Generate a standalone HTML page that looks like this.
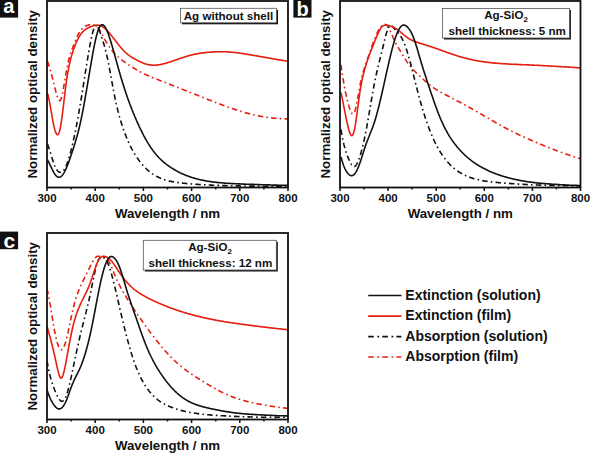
<!DOCTYPE html>
<html><head><meta charset="utf-8"><style>
html,body{margin:0;padding:0;background:#fff;width:591px;height:453px;overflow:hidden}
svg{display:block}
text{font-family:"Liberation Sans",sans-serif;font-weight:bold;fill:#111}
.tk{font-size:11.5px}
.ti{font-size:13.3px}
.lg{font-size:14px}
.bx{font-size:11.6px}
.pl{font-size:15px;fill:#fff}
</style></head><body>
<svg width="591" height="453" viewBox="0 0 591 453">
<clipPath id="clip471"><rect x="47" y="1" width="241" height="186.5"/></clipPath>
<g clip-path="url(#clip471)" fill="none" stroke-width="1.6" stroke-linejoin="round">
<path d="M47.5,61.4 48.0,62.8 48.5,64.3 49.0,65.9 49.5,67.5 50.0,69.2 50.5,70.9 51.0,72.7 51.5,74.5 52.0,76.3 52.5,78.2 53.0,80.2 53.5,82.2 54.0,84.1 54.5,86.2 55.0,88.2 55.5,90.2 56.0,92.2 56.5,94.1 57.0,95.8 57.5,97.3 58.0,98.6 58.5,99.6 59.0,100.3 59.5,100.7 60.0,100.6 60.5,100.1 61.0,99.0 61.5,97.6 62.0,95.7 62.5,93.4 63.0,90.9 63.5,88.1 64.0,85.2 64.5,82.2 65.0,79.1 65.5,76.1 66.0,73.1 66.5,70.2 67.0,67.6 67.5,65.1 68.0,62.9 68.5,60.8 69.0,58.8 69.5,57.0 70.0,55.3 70.5,53.7 71.0,52.3 71.5,50.8 72.0,49.4 72.5,48.1 73.0,46.8 73.5,45.5 74.0,44.2 74.5,42.9 75.0,41.7 75.5,40.5 76.0,39.3 76.5,38.1 77.0,37.0 77.5,36.0 78.0,34.9 78.5,34.0 79.0,33.1 79.5,32.2 80.0,31.4 80.5,30.6 81.0,29.9 81.5,29.3 82.0,28.8 82.5,28.2 83.0,27.8 83.5,27.4 84.0,27.0 84.5,26.7 85.0,26.4 85.5,26.1 86.0,25.9 86.5,25.7 87.0,25.5 87.5,25.3 88.0,25.2 88.5,25.0 89.0,24.9 89.5,24.8 90.0,24.7 90.5,24.6 91.0,24.6 91.5,24.6 92.0,24.6 92.5,24.6 93.0,24.7 93.5,24.9 94.0,25.0 94.5,25.2 95.0,25.5 95.5,25.8 96.0,26.1 96.5,26.5 97.0,27.0 97.5,27.5 98.0,28.0 98.5,28.6 99.0,29.3 99.5,30.0 100.0,30.7 100.5,31.5 101.0,32.3 101.5,33.2 102.0,34.1 102.5,35.0 103.0,36.0 103.5,36.9 104.0,37.9 104.5,38.8 105.0,39.8 105.5,40.7 106.0,41.6 106.5,42.4 107.0,43.3 107.5,44.1 108.0,44.9 108.5,45.7 109.0,46.4 109.5,47.1 110.0,47.8 110.5,48.5 111.0,49.2 111.5,49.8 112.0,50.5 112.5,51.1 113.0,51.7 113.5,52.2 114.0,52.8 114.5,53.4 115.0,53.9 115.5,54.4 116.0,54.9 116.5,55.4 117.0,55.9 117.5,56.3 118.0,56.8 118.5,57.2 119.0,57.6 119.5,58.1 120.0,58.5 120.5,58.9 121.0,59.3 121.5,59.7 122.0,60.1 122.5,60.4 123.0,60.8 123.5,61.2 124.0,61.5 124.5,61.9 125.0,62.2 125.5,62.6 126.0,62.9 126.5,63.3 127.0,63.6 127.5,64.0 128.0,64.3 128.5,64.7 129.0,65.0 129.5,65.3 130.0,65.7 130.5,66.0 131.0,66.3 131.5,66.7 132.0,67.0 132.5,67.3 133.0,67.6 133.5,67.9 134.0,68.2 134.5,68.5 135.0,68.8 135.5,69.1 136.0,69.4 136.5,69.7 137.0,70.0 137.5,70.3 138.0,70.6 138.5,70.9 139.0,71.2 139.5,71.4 140.0,71.7 140.5,72.0 141.0,72.2 141.5,72.5 142.0,72.8 142.5,73.0 143.0,73.3 143.5,73.5 144.0,73.7 144.5,74.0 145.0,74.2 145.5,74.5 146.0,74.7 146.5,74.9 147.0,75.2 147.5,75.4 148.0,75.6 148.5,75.8 149.0,76.0 149.5,76.3 150.0,76.5 150.5,76.7 151.0,76.9 151.5,77.1 152.0,77.3 152.5,77.5 153.0,77.7 153.5,77.9 154.0,78.1 154.5,78.3 155.0,78.5 155.5,78.7 156.0,78.9 156.5,79.1 157.0,79.3 157.5,79.5 158.0,79.7 158.5,79.9 159.0,80.1 159.5,80.3 160.0,80.5 160.5,80.7 161.0,80.9 161.5,81.1 162.0,81.3 162.5,81.5 163.0,81.7 163.5,81.9 164.0,82.0 164.5,82.2 165.0,82.4 165.5,82.6 166.0,82.8 166.5,83.0 167.0,83.2 167.5,83.4 168.0,83.6 168.5,83.8 169.0,84.0 169.5,84.2 170.0,84.4 170.5,84.6 171.0,84.8 171.5,85.0 172.0,85.2 172.5,85.4 173.0,85.6 173.5,85.8 174.0,86.0 174.5,86.2 175.0,86.4 175.5,86.6 176.0,86.8 176.5,87.0 177.0,87.2 177.5,87.4 178.0,87.6 178.5,87.8 179.0,88.0 179.5,88.2 180.0,88.4 180.5,88.6 181.0,88.8 181.5,89.0 182.0,89.2 182.5,89.4 183.0,89.6 183.5,89.8 184.0,90.0 184.5,90.2 185.0,90.4 185.5,90.6 186.0,90.8 186.5,91.0 187.0,91.2 187.5,91.4 188.0,91.6 188.5,91.8 189.0,92.0 189.5,92.2 190.0,92.4 190.5,92.6 191.0,92.8 191.5,93.0 192.0,93.2 192.5,93.3 193.0,93.5 193.5,93.7 194.0,93.9 194.5,94.1 195.0,94.3 195.5,94.5 196.0,94.7 196.5,94.9 197.0,95.1 197.5,95.3 198.0,95.5 198.5,95.7 199.0,95.9 199.5,96.1 200.0,96.3 200.5,96.5 201.0,96.7 201.5,96.9 202.0,97.1 202.5,97.3 203.0,97.5 203.5,97.7 204.0,97.9 204.5,98.1 205.0,98.3 205.5,98.5 206.0,98.7 206.5,98.9 207.0,99.1 207.5,99.3 208.0,99.5 208.5,99.7 209.0,99.9 209.5,100.1 210.0,100.3 210.5,100.5 211.0,100.6 211.5,100.8 212.0,101.0 212.5,101.2 213.0,101.4 213.5,101.6 214.0,101.8 214.5,102.0 215.0,102.2 215.5,102.4 216.0,102.6 216.5,102.8 217.0,103.0 217.5,103.1 218.0,103.3 218.5,103.5 219.0,103.7 219.5,103.9 220.0,104.1 220.5,104.3 221.0,104.5 221.5,104.7 222.0,104.8 222.5,105.0 223.0,105.2 223.5,105.4 224.0,105.6 224.5,105.8 225.0,105.9 225.5,106.1 226.0,106.3 226.5,106.5 227.0,106.7 227.5,106.9 228.0,107.0 228.5,107.2 229.0,107.4 229.5,107.6 230.0,107.7 230.5,107.9 231.0,108.1 231.5,108.3 232.0,108.4 232.5,108.6 233.0,108.8 233.5,109.0 234.0,109.1 234.5,109.3 235.0,109.5 235.5,109.6 236.0,109.8 236.5,110.0 237.0,110.1 237.5,110.3 238.0,110.4 238.5,110.6 239.0,110.8 239.5,110.9 240.0,111.1 240.5,111.2 241.0,111.4 241.5,111.5 242.0,111.7 242.5,111.8 243.0,112.0 243.5,112.1 244.0,112.3 244.5,112.4 245.0,112.6 245.5,112.7 246.0,112.9 246.5,113.0 247.0,113.1 247.5,113.3 248.0,113.4 248.5,113.5 249.0,113.7 249.5,113.8 250.0,113.9 250.5,114.1 251.0,114.2 251.5,114.3 252.0,114.4 252.5,114.6 253.0,114.7 253.5,114.8 254.0,114.9 254.5,115.0 255.0,115.1 255.5,115.3 256.0,115.4 256.5,115.5 257.0,115.6 257.5,115.7 258.0,115.8 258.5,115.9 259.0,116.0 259.5,116.1 260.0,116.2 260.5,116.3 261.0,116.4 261.5,116.5 262.0,116.6 262.5,116.6 263.0,116.7 263.5,116.8 264.0,116.9 264.5,117.0 265.0,117.1 265.5,117.1 266.0,117.2 266.5,117.3 267.0,117.4 267.5,117.4 268.0,117.5 268.5,117.6 269.0,117.6 269.5,117.7 270.0,117.7 270.5,117.8 271.0,117.9 271.5,117.9 272.0,118.0 272.5,118.0 273.0,118.1 273.5,118.1 274.0,118.1 274.5,118.2 275.0,118.2 275.5,118.3 276.0,118.3 276.5,118.3 277.0,118.4 277.5,118.4 278.0,118.4 278.5,118.5 279.0,118.5 279.5,118.5 280.0,118.6 280.5,118.6 281.0,118.6 281.5,118.7 282.0,118.7 282.5,118.7 283.0,118.8 283.5,118.8 284.0,118.8 284.5,118.8 285.0,118.9 285.5,118.9 286.0,118.9 286.5,119.0 287.0,119.0 287.5,119.1 288.0,119.1" stroke="#e61e10" stroke-dasharray="5.5 3.2 1.6 3.2"/>
<path d="M47.5,144.1 48.0,145.4 48.5,146.8 49.0,148.2 49.5,149.8 50.0,151.3 50.5,153.0 51.0,154.6 51.5,156.3 52.0,157.9 52.5,159.5 53.0,161.1 53.5,162.6 54.0,164.0 54.5,165.3 55.0,166.5 55.5,167.6 56.0,168.5 56.5,169.4 57.0,170.1 57.5,170.7 58.0,171.3 58.5,171.7 59.0,172.0 59.5,172.2 60.0,172.3 60.5,172.3 61.0,172.2 61.5,172.0 62.0,171.8 62.5,171.4 63.0,170.9 63.5,170.4 64.0,169.7 64.5,168.9 65.0,168.1 65.5,167.1 66.0,166.1 66.5,164.9 67.0,163.7 67.5,162.4 68.0,160.9 68.5,159.4 69.0,157.8 69.5,156.1 70.0,154.3 70.5,152.5 71.0,150.6 71.5,148.6 72.0,146.5 72.5,144.4 73.0,142.2 73.5,140.0 74.0,137.7 74.5,135.4 75.0,133.0 75.5,130.5 76.0,128.0 76.5,125.4 77.0,122.8 77.5,120.1 78.0,117.4 78.5,114.6 79.0,111.8 79.5,108.9 80.0,106.0 80.5,103.1 81.0,100.0 81.5,97.0 82.0,93.9 82.5,90.8 83.0,87.6 83.5,84.4 84.0,81.3 84.5,78.1 85.0,74.9 85.5,71.7 86.0,68.6 86.5,65.5 87.0,62.4 87.5,59.3 88.0,56.3 88.5,53.4 89.0,50.5 89.5,47.7 90.0,44.9 90.5,42.3 91.0,39.7 91.5,37.4 92.0,35.1 92.5,33.1 93.0,31.3 93.5,29.7 94.0,28.3 94.5,27.3 95.0,26.5 95.5,26.0 96.0,25.8 96.5,25.9 97.0,26.3 97.5,26.9 98.0,27.7 98.5,28.6 99.0,29.8 99.5,31.0 100.0,32.3 100.5,33.8 101.0,35.2 101.5,36.7 102.0,38.2 102.5,39.8 103.0,41.3 103.5,42.9 104.0,44.6 104.5,46.3 105.0,48.1 105.5,50.0 106.0,52.0 106.5,54.0 107.0,56.2 107.5,58.5 108.0,60.9 108.5,63.4 109.0,65.9 109.5,68.6 110.0,71.3 110.5,74.0 111.0,76.8 111.5,79.5 112.0,82.3 112.5,85.0 113.0,87.7 113.5,90.4 114.0,93.0 114.5,95.5 115.0,98.0 115.5,100.4 116.0,102.7 116.5,104.9 117.0,107.0 117.5,109.1 118.0,111.1 118.5,113.1 119.0,114.9 119.5,116.8 120.0,118.5 120.5,120.2 121.0,121.9 121.5,123.5 122.0,125.1 122.5,126.6 123.0,128.1 123.5,129.5 124.0,130.9 124.5,132.3 125.0,133.6 125.5,134.9 126.0,136.2 126.5,137.4 127.0,138.6 127.5,139.8 128.0,141.0 128.5,142.1 129.0,143.2 129.5,144.3 130.0,145.3 130.5,146.3 131.0,147.3 131.5,148.3 132.0,149.3 132.5,150.2 133.0,151.1 133.5,152.0 134.0,152.8 134.5,153.7 135.0,154.5 135.5,155.3 136.0,156.1 136.5,156.9 137.0,157.6 137.5,158.3 138.0,159.0 138.5,159.8 139.0,160.4 139.5,161.1 140.0,161.8 140.5,162.4 141.0,163.0 141.5,163.6 142.0,164.2 142.5,164.8 143.0,165.4 143.5,165.9 144.0,166.5 144.5,167.0 145.0,167.5 145.5,168.0 146.0,168.5 146.5,169.0 147.0,169.5 147.5,169.9 148.0,170.4 148.5,170.8 149.0,171.2 149.5,171.6 150.0,172.0 150.5,172.4 151.0,172.8 151.5,173.2 152.0,173.5 152.5,173.9 153.0,174.2 153.5,174.5 154.0,174.8 154.5,175.1 155.0,175.4 155.5,175.7 156.0,176.0 156.5,176.3 157.0,176.6 157.5,176.8 158.0,177.1 158.5,177.3 159.0,177.6 159.5,177.8 160.0,178.0 160.5,178.2 161.0,178.4 161.5,178.6 162.0,178.8 162.5,179.0 163.0,179.2 163.5,179.4 164.0,179.6 164.5,179.7 165.0,179.9 165.5,180.0 166.0,180.2 166.5,180.3 167.0,180.5 167.5,180.6 168.0,180.7 168.5,180.9 169.0,181.0 169.5,181.1 170.0,181.2 170.5,181.3 171.0,181.4 171.5,181.5 172.0,181.6 172.5,181.7 173.0,181.8 173.5,181.9 174.0,182.0 174.5,182.1 175.0,182.1 175.5,182.2 176.0,182.3 176.5,182.4 177.0,182.4 177.5,182.5 178.0,182.6 178.5,182.6 179.0,182.7 179.5,182.8 180.0,182.8 180.5,182.9 181.0,183.0 181.5,183.0 182.0,183.1 182.5,183.1 183.0,183.2 183.5,183.2 184.0,183.3 184.5,183.3 185.0,183.4 185.5,183.4 186.0,183.5 186.5,183.5 187.0,183.6 187.5,183.6 188.0,183.7 188.5,183.7 189.0,183.8 189.5,183.8 190.0,183.9 190.5,183.9 191.0,183.9 191.5,184.0 192.0,184.0 192.5,184.1 193.0,184.1 193.5,184.1 194.0,184.2 194.5,184.2 195.0,184.2 195.5,184.3 196.0,184.3 196.5,184.3 197.0,184.4 197.5,184.4 198.0,184.4 198.5,184.5 199.0,184.5 199.5,184.5 200.0,184.6 200.5,184.6 201.0,184.6 201.5,184.6 202.0,184.7 202.5,184.7 203.0,184.7 203.5,184.7 204.0,184.8 204.5,184.8 205.0,184.8 205.5,184.8 206.0,184.9 206.5,184.9 207.0,184.9 207.5,184.9 208.0,185.0 208.5,185.0 209.0,185.0 209.5,185.0 210.0,185.0 210.5,185.1 211.0,185.1 211.5,185.1 212.0,185.1 212.5,185.2 213.0,185.2 213.5,185.2 214.0,185.2 214.5,185.2 215.0,185.3 215.5,185.3 216.0,185.3 216.5,185.3 217.0,185.3 217.5,185.3 218.0,185.4 218.5,185.4 219.0,185.4 219.5,185.4 220.0,185.4 220.5,185.5 221.0,185.5 221.5,185.5 222.0,185.5 222.5,185.5 223.0,185.5 223.5,185.6 224.0,185.6 224.5,185.6 225.0,185.6 225.5,185.6 226.0,185.6 226.5,185.6 227.0,185.7 227.5,185.7 228.0,185.7 228.5,185.7 229.0,185.7 229.5,185.7 230.0,185.7 230.5,185.7 231.0,185.8 231.5,185.8 232.0,185.8 232.5,185.8 233.0,185.8 233.5,185.8 234.0,185.8 234.5,185.8 235.0,185.9 235.5,185.9 236.0,185.9 236.5,185.9 237.0,185.9 237.5,185.9 238.0,185.9 238.5,185.9 239.0,185.9 239.5,185.9 240.0,186.0 240.5,186.0 241.0,186.0 241.5,186.0 242.0,186.0 242.5,186.0 243.0,186.0 243.5,186.0 244.0,186.0 244.5,186.0 245.0,186.0 245.5,186.0 246.0,186.0 246.5,186.1 247.0,186.1 247.5,186.1 248.0,186.1 248.5,186.1 249.0,186.1 249.5,186.1 250.0,186.1 250.5,186.1 251.0,186.1 251.5,186.1 252.0,186.1 252.5,186.1 253.0,186.1 253.5,186.1 254.0,186.1 254.5,186.1 255.0,186.1 255.5,186.2 256.0,186.2 256.5,186.2 257.0,186.2 257.5,186.2 258.0,186.2 258.5,186.2 259.0,186.2 259.5,186.2 260.0,186.2 260.5,186.2 261.0,186.2 261.5,186.2 262.0,186.2 262.5,186.2 263.0,186.2 263.5,186.2 264.0,186.2 264.5,186.2 265.0,186.2 265.5,186.2 266.0,186.2 266.5,186.2 267.0,186.2 267.5,186.2 268.0,186.2 268.5,186.2 269.0,186.2 269.5,186.2 270.0,186.2 270.5,186.2 271.0,186.2 271.5,186.2 272.0,186.2 272.5,186.2 273.0,186.2 273.5,186.2 274.0,186.2 274.5,186.2 275.0,186.2 275.5,186.2 276.0,186.2 276.5,186.2 277.0,186.2 277.5,186.2 278.0,186.2 278.5,186.2 279.0,186.2 279.5,186.2 280.0,186.2 280.5,186.2 281.0,186.2 281.5,186.2 282.0,186.2 282.5,186.2 283.0,186.2 283.5,186.2 284.0,186.2 284.5,186.2 285.0,186.2 285.5,186.2 286.0,186.2 286.5,186.2 287.0,186.2 287.5,186.2 288.0,186.2" stroke="#111" stroke-dasharray="5.5 3.2 1.6 3.2"/>
<path d="M47.5,93.4 48.0,95.1 48.5,97.1 49.0,99.4 49.5,101.9 50.0,104.6 50.5,107.4 51.0,110.3 51.5,113.2 52.0,116.1 52.5,118.9 53.0,121.6 53.5,124.1 54.0,126.5 54.5,128.6 55.0,130.4 55.5,131.9 56.0,133.2 56.5,134.0 57.0,134.6 57.5,134.7 58.0,134.5 58.5,133.9 59.0,132.8 59.5,131.3 60.0,129.3 60.5,126.8 61.0,124.0 61.5,120.7 62.0,117.1 62.5,113.2 63.0,109.2 63.5,105.1 64.0,100.8 64.5,96.6 65.0,92.4 65.5,88.4 66.0,84.5 66.5,80.9 67.0,77.6 67.5,74.4 68.0,71.5 68.5,68.9 69.0,66.4 69.5,64.0 70.0,61.8 70.5,59.8 71.0,57.9 71.5,56.1 72.0,54.4 72.5,52.8 73.0,51.2 73.5,49.7 74.0,48.3 74.5,46.9 75.0,45.6 75.5,44.3 76.0,43.1 76.5,42.0 77.0,40.9 77.5,39.8 78.0,38.8 78.5,37.9 79.0,37.0 79.5,36.2 80.0,35.4 80.5,34.7 81.0,34.0 81.5,33.3 82.0,32.7 82.5,32.1 83.0,31.6 83.5,31.1 84.0,30.7 84.5,30.2 85.0,29.8 85.5,29.5 86.0,29.1 86.5,28.8 87.0,28.5 87.5,28.2 88.0,28.0 88.5,27.7 89.0,27.5 89.5,27.2 90.0,27.0 90.5,26.8 91.0,26.6 91.5,26.4 92.0,26.2 92.5,26.0 93.0,25.8 93.5,25.7 94.0,25.6 94.5,25.4 95.0,25.3 95.5,25.3 96.0,25.2 96.5,25.2 97.0,25.1 97.5,25.1 98.0,25.2 98.5,25.2 99.0,25.3 99.5,25.4 100.0,25.5 100.5,25.7 101.0,25.9 101.5,26.1 102.0,26.4 102.5,26.7 103.0,27.0 103.5,27.3 104.0,27.7 104.5,28.1 105.0,28.5 105.5,29.0 106.0,29.5 106.5,29.9 107.0,30.4 107.5,31.0 108.0,31.5 108.5,32.1 109.0,32.6 109.5,33.2 110.0,33.8 110.5,34.4 111.0,35.0 111.5,35.6 112.0,36.2 112.5,36.9 113.0,37.5 113.5,38.2 114.0,38.8 114.5,39.5 115.0,40.1 115.5,40.8 116.0,41.4 116.5,42.1 117.0,42.7 117.5,43.4 118.0,44.0 118.5,44.6 119.0,45.3 119.5,45.9 120.0,46.5 120.5,47.1 121.0,47.7 121.5,48.3 122.0,48.9 122.5,49.4 123.0,50.0 123.5,50.5 124.0,51.0 124.5,51.5 125.0,52.0 125.5,52.5 126.0,52.9 126.5,53.4 127.0,53.8 127.5,54.2 128.0,54.6 128.5,55.0 129.0,55.4 129.5,55.7 130.0,56.1 130.5,56.4 131.0,56.7 131.5,57.1 132.0,57.4 132.5,57.7 133.0,58.0 133.5,58.3 134.0,58.5 134.5,58.8 135.0,59.1 135.5,59.4 136.0,59.6 136.5,59.9 137.0,60.1 137.5,60.4 138.0,60.7 138.5,60.9 139.0,61.2 139.5,61.4 140.0,61.6 140.5,61.9 141.0,62.1 141.5,62.3 142.0,62.6 142.5,62.8 143.0,63.0 143.5,63.2 144.0,63.4 144.5,63.6 145.0,63.7 145.5,63.9 146.0,64.1 146.5,64.2 147.0,64.3 147.5,64.5 148.0,64.6 148.5,64.7 149.0,64.8 149.5,64.9 150.0,64.9 150.5,65.0 151.0,65.1 151.5,65.1 152.0,65.1 152.5,65.2 153.0,65.2 153.5,65.2 154.0,65.2 154.5,65.2 155.0,65.2 155.5,65.2 156.0,65.1 156.5,65.1 157.0,65.0 157.5,65.0 158.0,64.9 158.5,64.9 159.0,64.8 159.5,64.7 160.0,64.6 160.5,64.5 161.0,64.4 161.5,64.3 162.0,64.2 162.5,64.1 163.0,64.0 163.5,63.8 164.0,63.7 164.5,63.6 165.0,63.4 165.5,63.3 166.0,63.2 166.5,63.0 167.0,62.9 167.5,62.7 168.0,62.5 168.5,62.4 169.0,62.2 169.5,62.1 170.0,61.9 170.5,61.7 171.0,61.6 171.5,61.4 172.0,61.2 172.5,61.1 173.0,60.9 173.5,60.7 174.0,60.5 174.5,60.4 175.0,60.2 175.5,60.0 176.0,59.9 176.5,59.7 177.0,59.5 177.5,59.3 178.0,59.2 178.5,59.0 179.0,58.8 179.5,58.7 180.0,58.5 180.5,58.3 181.0,58.2 181.5,58.0 182.0,57.8 182.5,57.7 183.0,57.5 183.5,57.3 184.0,57.2 184.5,57.0 185.0,56.9 185.5,56.7 186.0,56.6 186.5,56.4 187.0,56.3 187.5,56.1 188.0,56.0 188.5,55.8 189.0,55.7 189.5,55.5 190.0,55.4 190.5,55.3 191.0,55.1 191.5,55.0 192.0,54.9 192.5,54.8 193.0,54.6 193.5,54.5 194.0,54.4 194.5,54.3 195.0,54.2 195.5,54.1 196.0,54.0 196.5,53.9 197.0,53.8 197.5,53.7 198.0,53.6 198.5,53.5 199.0,53.4 199.5,53.4 200.0,53.3 200.5,53.2 201.0,53.1 201.5,53.1 202.0,53.0 202.5,52.9 203.0,52.9 203.5,52.8 204.0,52.7 204.5,52.7 205.0,52.6 205.5,52.6 206.0,52.5 206.5,52.5 207.0,52.4 207.5,52.4 208.0,52.3 208.5,52.3 209.0,52.2 209.5,52.2 210.0,52.2 210.5,52.1 211.0,52.1 211.5,52.1 212.0,52.0 212.5,52.0 213.0,52.0 213.5,51.9 214.0,51.9 214.5,51.9 215.0,51.9 215.5,51.8 216.0,51.8 216.5,51.8 217.0,51.8 217.5,51.8 218.0,51.8 218.5,51.8 219.0,51.7 219.5,51.7 220.0,51.7 220.5,51.7 221.0,51.7 221.5,51.7 222.0,51.7 222.5,51.7 223.0,51.7 223.5,51.7 224.0,51.7 224.5,51.8 225.0,51.8 225.5,51.8 226.0,51.8 226.5,51.8 227.0,51.9 227.5,51.9 228.0,51.9 228.5,51.9 229.0,52.0 229.5,52.0 230.0,52.0 230.5,52.1 231.0,52.1 231.5,52.2 232.0,52.2 232.5,52.3 233.0,52.3 233.5,52.4 234.0,52.4 234.5,52.5 235.0,52.5 235.5,52.6 236.0,52.6 236.5,52.7 237.0,52.8 237.5,52.8 238.0,52.9 238.5,53.0 239.0,53.0 239.5,53.1 240.0,53.2 240.5,53.2 241.0,53.3 241.5,53.4 242.0,53.5 242.5,53.5 243.0,53.6 243.5,53.7 244.0,53.8 244.5,53.9 245.0,53.9 245.5,54.0 246.0,54.1 246.5,54.2 247.0,54.3 247.5,54.4 248.0,54.4 248.5,54.5 249.0,54.6 249.5,54.7 250.0,54.8 250.5,54.9 251.0,54.9 251.5,55.0 252.0,55.1 252.5,55.2 253.0,55.3 253.5,55.4 254.0,55.5 254.5,55.5 255.0,55.6 255.5,55.7 256.0,55.8 256.5,55.9 257.0,56.0 257.5,56.1 258.0,56.1 258.5,56.2 259.0,56.3 259.5,56.4 260.0,56.5 260.5,56.6 261.0,56.7 261.5,56.7 262.0,56.8 262.5,56.9 263.0,57.0 263.5,57.1 264.0,57.2 264.5,57.3 265.0,57.4 265.5,57.4 266.0,57.5 266.5,57.6 267.0,57.7 267.5,57.8 268.0,57.9 268.5,58.0 269.0,58.1 269.5,58.1 270.0,58.2 270.5,58.3 271.0,58.4 271.5,58.5 272.0,58.6 272.5,58.7 273.0,58.8 273.5,58.8 274.0,58.9 274.5,59.0 275.0,59.1 275.5,59.2 276.0,59.3 276.5,59.4 277.0,59.4 277.5,59.5 278.0,59.6 278.5,59.7 279.0,59.8 279.5,59.9 280.0,60.0 280.5,60.0 281.0,60.1 281.5,60.2 282.0,60.3 282.5,60.4 283.0,60.5 283.5,60.5 284.0,60.6 284.5,60.7 285.0,60.8 285.5,60.9 286.0,61.0 286.5,61.0 287.0,61.1 287.5,61.2 288.0,61.3" stroke="#e61e10"/>
<path d="M47.5,160.0 48.0,160.9 48.5,161.8 49.0,162.7 49.5,163.7 50.0,164.8 50.5,165.8 51.0,166.9 51.5,167.9 52.0,169.0 52.5,170.0 53.0,171.0 53.5,171.9 54.0,172.8 54.5,173.6 55.0,174.3 55.5,175.0 56.0,175.6 56.5,176.1 57.0,176.5 57.5,176.8 58.0,177.1 58.5,177.2 59.0,177.3 59.5,177.3 60.0,177.1 60.5,176.9 61.0,176.6 61.5,176.2 62.0,175.7 62.5,175.1 63.0,174.4 63.5,173.6 64.0,172.8 64.5,171.9 65.0,170.9 65.5,169.9 66.0,168.8 66.5,167.7 67.0,166.5 67.5,165.2 68.0,163.9 68.5,162.6 69.0,161.3 69.5,159.9 70.0,158.4 70.5,157.0 71.0,155.5 71.5,154.0 72.0,152.5 72.5,151.0 73.0,149.4 73.5,147.9 74.0,146.3 74.5,144.7 75.0,143.1 75.5,141.5 76.0,139.8 76.5,138.1 77.0,136.3 77.5,134.5 78.0,132.6 78.5,130.7 79.0,128.7 79.5,126.6 80.0,124.5 80.5,122.2 81.0,119.9 81.5,117.5 82.0,115.1 82.5,112.5 83.0,109.9 83.5,107.3 84.0,104.5 84.5,101.8 85.0,99.0 85.5,96.1 86.0,93.2 86.5,90.3 87.0,87.4 87.5,84.4 88.0,81.5 88.5,78.5 89.0,75.5 89.5,72.6 90.0,69.6 90.5,66.7 91.0,63.8 91.5,60.9 92.0,58.0 92.5,55.2 93.0,52.5 93.5,49.8 94.0,47.2 94.5,44.7 95.0,42.3 95.5,40.0 96.0,37.8 96.5,35.8 97.0,33.9 97.5,32.2 98.0,30.6 98.5,29.2 99.0,28.1 99.5,27.1 100.0,26.2 100.5,25.6 101.0,25.2 101.5,24.9 102.0,24.7 102.5,24.7 103.0,24.9 103.5,25.2 104.0,25.6 104.5,26.2 105.0,26.9 105.5,27.7 106.0,28.6 106.5,29.6 107.0,30.7 107.5,31.9 108.0,33.2 108.5,34.6 109.0,36.0 109.5,37.5 110.0,39.0 110.5,40.6 111.0,42.2 111.5,43.9 112.0,45.6 112.5,47.3 113.0,49.1 113.5,50.8 114.0,52.6 114.5,54.4 115.0,56.2 115.5,58.0 116.0,59.8 116.5,61.6 117.0,63.4 117.5,65.2 118.0,67.0 118.5,68.8 119.0,70.5 119.5,72.3 120.0,74.0 120.5,75.7 121.0,77.4 121.5,79.1 122.0,80.7 122.5,82.4 123.0,84.0 123.5,85.6 124.0,87.2 124.5,88.7 125.0,90.3 125.5,91.8 126.0,93.3 126.5,94.8 127.0,96.2 127.5,97.6 128.0,99.1 128.5,100.4 129.0,101.8 129.5,103.2 130.0,104.5 130.5,105.8 131.0,107.1 131.5,108.4 132.0,109.7 132.5,110.9 133.0,112.2 133.5,113.4 134.0,114.6 134.5,115.8 135.0,117.0 135.5,118.1 136.0,119.3 136.5,120.5 137.0,121.6 137.5,122.7 138.0,123.8 138.5,124.9 139.0,126.0 139.5,127.1 140.0,128.1 140.5,129.2 141.0,130.2 141.5,131.2 142.0,132.2 142.5,133.2 143.0,134.2 143.5,135.1 144.0,136.1 144.5,137.0 145.0,137.9 145.5,138.8 146.0,139.7 146.5,140.6 147.0,141.4 147.5,142.3 148.0,143.1 148.5,143.9 149.0,144.7 149.5,145.5 150.0,146.3 150.5,147.1 151.0,147.8 151.5,148.5 152.0,149.2 152.5,149.9 153.0,150.6 153.5,151.3 154.0,151.9 154.5,152.5 155.0,153.2 155.5,153.8 156.0,154.4 156.5,155.0 157.0,155.5 157.5,156.1 158.0,156.6 158.5,157.2 159.0,157.7 159.5,158.2 160.0,158.7 160.5,159.2 161.0,159.7 161.5,160.2 162.0,160.6 162.5,161.1 163.0,161.5 163.5,161.9 164.0,162.4 164.5,162.8 165.0,163.2 165.5,163.6 166.0,164.0 166.5,164.4 167.0,164.8 167.5,165.1 168.0,165.5 168.5,165.8 169.0,166.2 169.5,166.5 170.0,166.9 170.5,167.2 171.0,167.6 171.5,167.9 172.0,168.2 172.5,168.5 173.0,168.8 173.5,169.1 174.0,169.4 174.5,169.7 175.0,170.0 175.5,170.3 176.0,170.6 176.5,170.9 177.0,171.1 177.5,171.4 178.0,171.7 178.5,171.9 179.0,172.2 179.5,172.4 180.0,172.7 180.5,172.9 181.0,173.2 181.5,173.4 182.0,173.6 182.5,173.9 183.0,174.1 183.5,174.3 184.0,174.5 184.5,174.7 185.0,174.9 185.5,175.2 186.0,175.4 186.5,175.5 187.0,175.7 187.5,175.9 188.0,176.1 188.5,176.3 189.0,176.5 189.5,176.7 190.0,176.8 190.5,177.0 191.0,177.2 191.5,177.3 192.0,177.5 192.5,177.7 193.0,177.8 193.5,178.0 194.0,178.1 194.5,178.3 195.0,178.4 195.5,178.5 196.0,178.7 196.5,178.8 197.0,178.9 197.5,179.1 198.0,179.2 198.5,179.3 199.0,179.4 199.5,179.6 200.0,179.7 200.5,179.8 201.0,179.9 201.5,180.0 202.0,180.1 202.5,180.2 203.0,180.3 203.5,180.4 204.0,180.5 204.5,180.6 205.0,180.7 205.5,180.8 206.0,180.9 206.5,181.0 207.0,181.1 207.5,181.2 208.0,181.2 208.5,181.3 209.0,181.4 209.5,181.5 210.0,181.5 210.5,181.6 211.0,181.7 211.5,181.8 212.0,181.8 212.5,181.9 213.0,182.0 213.5,182.0 214.0,182.1 214.5,182.1 215.0,182.2 215.5,182.3 216.0,182.3 216.5,182.4 217.0,182.4 217.5,182.5 218.0,182.5 218.5,182.6 219.0,182.6 219.5,182.7 220.0,182.7 220.5,182.8 221.0,182.8 221.5,182.8 222.0,182.9 222.5,182.9 223.0,183.0 223.5,183.0 224.0,183.0 224.5,183.1 225.0,183.1 225.5,183.2 226.0,183.2 226.5,183.2 227.0,183.3 227.5,183.3 228.0,183.3 228.5,183.4 229.0,183.4 229.5,183.4 230.0,183.5 230.5,183.5 231.0,183.5 231.5,183.5 232.0,183.6 232.5,183.6 233.0,183.6 233.5,183.6 234.0,183.7 234.5,183.7 235.0,183.7 235.5,183.7 236.0,183.8 236.5,183.8 237.0,183.8 237.5,183.8 238.0,183.9 238.5,183.9 239.0,183.9 239.5,183.9 240.0,183.9 240.5,184.0 241.0,184.0 241.5,184.0 242.0,184.0 242.5,184.0 243.0,184.1 243.5,184.1 244.0,184.1 244.5,184.1 245.0,184.1 245.5,184.2 246.0,184.2 246.5,184.2 247.0,184.2 247.5,184.2 248.0,184.2 248.5,184.3 249.0,184.3 249.5,184.3 250.0,184.3 250.5,184.3 251.0,184.3 251.5,184.4 252.0,184.4 252.5,184.4 253.0,184.4 253.5,184.4 254.0,184.4 254.5,184.5 255.0,184.5 255.5,184.5 256.0,184.5 256.5,184.5 257.0,184.5 257.5,184.6 258.0,184.6 258.5,184.6 259.0,184.6 259.5,184.6 260.0,184.6 260.5,184.7 261.0,184.7 261.5,184.7 262.0,184.7 262.5,184.7 263.0,184.7 263.5,184.8 264.0,184.8 264.5,184.8 265.0,184.8 265.5,184.8 266.0,184.8 266.5,184.9 267.0,184.9 267.5,184.9 268.0,184.9 268.5,184.9 269.0,184.9 269.5,184.9 270.0,185.0 270.5,185.0 271.0,185.0 271.5,185.0 272.0,185.0 272.5,185.0 273.0,185.0 273.5,185.1 274.0,185.1 274.5,185.1 275.0,185.1 275.5,185.1 276.0,185.1 276.5,185.1 277.0,185.1 277.5,185.1 278.0,185.2 278.5,185.2 279.0,185.2 279.5,185.2 280.0,185.2 280.5,185.2 281.0,185.2 281.5,185.2 282.0,185.2 282.5,185.2 283.0,185.2 283.5,185.2 284.0,185.2 284.5,185.3 285.0,185.3 285.5,185.3 286.0,185.3 286.5,185.3 287.0,185.3 287.5,185.3 288.0,185.3" stroke="#111"/>
</g>
<rect x="47" y="1" width="241" height="186.5" fill="none" stroke="#111" stroke-width="1.8"/>
<path d="M47.00,187.5 v3.6 M71.10,187.5 v2.0 M95.20,187.5 v3.6 M119.30,187.5 v2.0 M143.40,187.5 v3.6 M167.50,187.5 v2.0 M191.60,187.5 v3.6 M215.70,187.5 v2.0 M239.80,187.5 v3.6 M263.90,187.5 v2.0 M288.00,187.5 v3.6 " stroke="#111" stroke-width="1.5"/>
<text x="47.00" y="202.1" text-anchor="middle" class="tk">300</text>
<text x="95.20" y="202.1" text-anchor="middle" class="tk">400</text>
<text x="143.40" y="202.1" text-anchor="middle" class="tk">500</text>
<text x="191.60" y="202.1" text-anchor="middle" class="tk">600</text>
<text x="239.80" y="202.1" text-anchor="middle" class="tk">700</text>
<text x="288.00" y="202.1" text-anchor="middle" class="tk">800</text>
<text x="167.50" y="218.1" text-anchor="middle" class="ti">Wavelength / nm</text>
<text transform="translate(36.8,94.25) rotate(-90)" text-anchor="middle" class="ti">Normalized optical density</text>
<rect x="0" y="0" width="18.1" height="17.6" fill="#111"/>
<text x="8.8" y="13.4" text-anchor="middle" class="pl" style="font-size:20px">a</text>
<rect x="182.0" y="9.8" width="96.0" height="14.5" fill="#111"/>
<rect x="180.5" y="8.3" width="96.0" height="14.5" fill="#fff" stroke="#555" stroke-width="0.8"/>
<text x="228.5" y="19.5" text-anchor="middle" class="bx">Ag without shell</text>
<clipPath id="clip3401"><rect x="340" y="1" width="240.5" height="186.5"/></clipPath>
<g clip-path="url(#clip3401)" fill="none" stroke-width="1.6" stroke-linejoin="round">
<path d="M341.0,64.8 341.5,68.5 342.0,71.9 342.5,75.3 343.0,78.4 343.5,81.4 344.0,84.3 344.5,87.0 345.0,89.6 345.5,92.1 346.0,94.4 346.5,96.7 347.0,98.8 347.5,100.8 348.0,102.8 348.5,104.6 349.0,106.4 349.5,108.1 350.0,109.6 350.5,110.9 351.0,112.0 351.5,113.0 352.0,113.6 352.5,114.0 353.0,114.1 353.5,113.8 354.0,113.2 354.5,112.1 355.0,110.7 355.5,108.9 356.0,106.9 356.5,104.6 357.0,102.0 357.5,99.4 358.0,96.6 358.5,93.8 359.0,91.0 359.5,88.2 360.0,85.5 360.5,82.9 361.0,80.6 361.5,78.4 362.0,76.3 362.5,74.4 363.0,72.6 363.5,70.9 364.0,69.2 364.5,67.7 365.0,66.2 365.5,64.7 366.0,63.2 366.5,61.8 367.0,60.4 367.5,58.9 368.0,57.5 368.5,56.0 369.0,54.6 369.5,53.1 370.0,51.7 370.5,50.3 371.0,48.9 371.5,47.5 372.0,46.1 372.5,44.7 373.0,43.4 373.5,42.0 374.0,40.7 374.5,39.4 375.0,38.2 375.5,37.0 376.0,35.8 376.5,34.6 377.0,33.5 377.5,32.4 378.0,31.4 378.5,30.4 379.0,29.5 379.5,28.7 380.0,27.9 380.5,27.2 381.0,26.5 381.5,26.0 382.0,25.5 382.5,25.1 383.0,24.7 383.5,24.5 384.0,24.4 384.5,24.3 385.0,24.3 385.5,24.5 386.0,24.7 386.5,25.1 387.0,25.5 387.5,26.1 388.0,26.7 388.5,27.5 389.0,28.4 389.5,29.3 390.0,30.4 390.5,31.5 391.0,32.6 391.5,33.8 392.0,34.9 392.5,36.1 393.0,37.3 393.5,38.4 394.0,39.5 394.5,40.6 395.0,41.6 395.5,42.6 396.0,43.6 396.5,44.5 397.0,45.4 397.5,46.2 398.0,47.1 398.5,47.9 399.0,48.8 399.5,49.6 400.0,50.4 400.5,51.3 401.0,52.1 401.5,53.0 402.0,53.8 402.5,54.7 403.0,55.5 403.5,56.3 404.0,57.2 404.5,58.0 405.0,58.8 405.5,59.6 406.0,60.4 406.5,61.1 407.0,61.9 407.5,62.6 408.0,63.3 408.5,64.0 409.0,64.7 409.5,65.3 410.0,65.9 410.5,66.6 411.0,67.2 411.5,67.7 412.0,68.3 412.5,68.9 413.0,69.4 413.5,69.9 414.0,70.5 414.5,71.0 415.0,71.5 415.5,72.0 416.0,72.5 416.5,73.0 417.0,73.4 417.5,73.9 418.0,74.4 418.5,74.9 419.0,75.3 419.5,75.8 420.0,76.3 420.5,76.8 421.0,77.2 421.5,77.7 422.0,78.2 422.5,78.6 423.0,79.1 423.5,79.5 424.0,80.0 424.5,80.4 425.0,80.9 425.5,81.3 426.0,81.7 426.5,82.2 427.0,82.6 427.5,83.0 428.0,83.4 428.5,83.9 429.0,84.3 429.5,84.7 430.0,85.1 430.5,85.5 431.0,85.8 431.5,86.2 432.0,86.6 432.5,87.0 433.0,87.3 433.5,87.7 434.0,88.0 434.5,88.4 435.0,88.7 435.5,89.0 436.0,89.4 436.5,89.7 437.0,90.0 437.5,90.3 438.0,90.6 438.5,90.9 439.0,91.2 439.5,91.5 440.0,91.8 440.5,92.1 441.0,92.4 441.5,92.6 442.0,92.9 442.5,93.2 443.0,93.5 443.5,93.7 444.0,94.0 444.5,94.3 445.0,94.5 445.5,94.8 446.0,95.1 446.5,95.3 447.0,95.6 447.5,95.8 448.0,96.1 448.5,96.3 449.0,96.6 449.5,96.8 450.0,97.1 450.5,97.4 451.0,97.6 451.5,97.9 452.0,98.1 452.5,98.4 453.0,98.6 453.5,98.9 454.0,99.2 454.5,99.4 455.0,99.7 455.5,99.9 456.0,100.2 456.5,100.5 457.0,100.7 457.5,101.0 458.0,101.2 458.5,101.5 459.0,101.8 459.5,102.0 460.0,102.3 460.5,102.6 461.0,102.8 461.5,103.1 462.0,103.4 462.5,103.7 463.0,103.9 463.5,104.2 464.0,104.5 464.5,104.7 465.0,105.0 465.5,105.3 466.0,105.6 466.5,105.8 467.0,106.1 467.5,106.4 468.0,106.7 468.5,106.9 469.0,107.2 469.5,107.5 470.0,107.8 470.5,108.1 471.0,108.3 471.5,108.6 472.0,108.9 472.5,109.2 473.0,109.5 473.5,109.7 474.0,110.0 474.5,110.3 475.0,110.6 475.5,110.9 476.0,111.2 476.5,111.5 477.0,111.7 477.5,112.0 478.0,112.3 478.5,112.6 479.0,112.9 479.5,113.2 480.0,113.5 480.5,113.8 481.0,114.1 481.5,114.4 482.0,114.6 482.5,114.9 483.0,115.2 483.5,115.5 484.0,115.8 484.5,116.1 485.0,116.4 485.5,116.7 486.0,117.0 486.5,117.3 487.0,117.6 487.5,117.9 488.0,118.1 488.5,118.4 489.0,118.7 489.5,119.0 490.0,119.3 490.5,119.6 491.0,119.9 491.5,120.2 492.0,120.5 492.5,120.8 493.0,121.0 493.5,121.3 494.0,121.6 494.5,121.9 495.0,122.2 495.5,122.5 496.0,122.8 496.5,123.1 497.0,123.3 497.5,123.6 498.0,123.9 498.5,124.2 499.0,124.5 499.5,124.7 500.0,125.0 500.5,125.3 501.0,125.6 501.5,125.9 502.0,126.1 502.5,126.4 503.0,126.7 503.5,126.9 504.0,127.2 504.5,127.5 505.0,127.7 505.5,128.0 506.0,128.3 506.5,128.5 507.0,128.8 507.5,129.1 508.0,129.3 508.5,129.6 509.0,129.8 509.5,130.1 510.0,130.4 510.5,130.6 511.0,130.9 511.5,131.1 512.0,131.4 512.5,131.6 513.0,131.9 513.5,132.1 514.0,132.3 514.5,132.6 515.0,132.8 515.5,133.1 516.0,133.3 516.5,133.6 517.0,133.8 517.5,134.0 518.0,134.3 518.5,134.5 519.0,134.8 519.5,135.0 520.0,135.2 520.5,135.5 521.0,135.7 521.5,135.9 522.0,136.2 522.5,136.4 523.0,136.6 523.5,136.8 524.0,137.1 524.5,137.3 525.0,137.5 525.5,137.7 526.0,138.0 526.5,138.2 527.0,138.4 527.5,138.6 528.0,138.9 528.5,139.1 529.0,139.3 529.5,139.5 530.0,139.7 530.5,140.0 531.0,140.2 531.5,140.4 532.0,140.6 532.5,140.8 533.0,141.1 533.5,141.3 534.0,141.5 534.5,141.7 535.0,141.9 535.5,142.1 536.0,142.3 536.5,142.5 537.0,142.8 537.5,143.0 538.0,143.2 538.5,143.4 539.0,143.6 539.5,143.8 540.0,144.0 540.5,144.2 541.0,144.4 541.5,144.6 542.0,144.8 542.5,145.1 543.0,145.3 543.5,145.5 544.0,145.7 544.5,145.9 545.0,146.1 545.5,146.3 546.0,146.5 546.5,146.7 547.0,146.9 547.5,147.1 548.0,147.3 548.5,147.5 549.0,147.7 549.5,147.9 550.0,148.1 550.5,148.3 551.0,148.5 551.5,148.7 552.0,148.8 552.5,149.0 553.0,149.2 553.5,149.4 554.0,149.6 554.5,149.8 555.0,150.0 555.5,150.2 556.0,150.4 556.5,150.6 557.0,150.8 557.5,151.0 558.0,151.1 558.5,151.3 559.0,151.5 559.5,151.7 560.0,151.9 560.5,152.1 561.0,152.3 561.5,152.4 562.0,152.6 562.5,152.8 563.0,153.0 563.5,153.2 564.0,153.3 564.5,153.5 565.0,153.7 565.5,153.9 566.0,154.1 566.5,154.2 567.0,154.4 567.5,154.6 568.0,154.8 568.5,154.9 569.0,155.1 569.5,155.3 570.0,155.4 570.5,155.6 571.0,155.8 571.5,155.9 572.0,156.1 572.5,156.3 573.0,156.4 573.5,156.6 574.0,156.8 574.5,156.9 575.0,157.1 575.5,157.3 576.0,157.4 576.5,157.6 577.0,157.7 577.5,157.9 578.0,158.0 578.5,158.2 579.0,158.3 579.5,158.5 580.0,158.6 580.5,158.8" stroke="#e61e10" stroke-dasharray="5.5 3.2 1.6 3.2"/>
<path d="M341.0,129.5 341.5,132.6 342.0,135.4 342.5,138.0 343.0,140.5 343.5,142.8 344.0,144.9 344.5,146.8 345.0,148.6 345.5,150.3 346.0,151.9 346.5,153.4 347.0,154.8 347.5,156.1 348.0,157.4 348.5,158.7 349.0,159.8 349.5,161.0 350.0,162.0 350.5,163.0 351.0,163.9 351.5,164.7 352.0,165.3 352.5,165.9 353.0,166.3 353.5,166.5 354.0,166.6 354.5,166.6 355.0,166.3 355.5,165.9 356.0,165.3 356.5,164.6 357.0,163.7 357.5,162.7 358.0,161.6 358.5,160.4 359.0,159.0 359.5,157.6 360.0,156.0 360.5,154.4 361.0,152.7 361.5,150.9 362.0,149.0 362.5,147.1 363.0,145.0 363.5,142.9 364.0,140.7 364.5,138.4 365.0,136.0 365.5,133.6 366.0,131.0 366.5,128.4 367.0,125.7 367.5,122.9 368.0,120.1 368.5,117.2 369.0,114.3 369.5,111.3 370.0,108.4 370.5,105.4 371.0,102.4 371.5,99.5 372.0,96.6 372.5,93.7 373.0,90.9 373.5,88.2 374.0,85.5 374.5,83.0 375.0,80.5 375.5,78.1 376.0,75.7 376.5,73.5 377.0,71.3 377.5,69.1 378.0,67.0 378.5,64.9 379.0,62.9 379.5,60.9 380.0,58.9 380.5,56.9 381.0,54.9 381.5,52.9 382.0,50.9 382.5,48.9 383.0,46.8 383.5,44.7 384.0,42.6 384.5,40.5 385.0,38.5 385.5,36.5 386.0,34.6 386.5,32.8 387.0,31.2 387.5,29.7 388.0,28.5 388.5,27.4 389.0,26.6 389.5,26.0 390.0,25.7 390.5,25.5 391.0,25.6 391.5,25.8 392.0,26.1 392.5,26.5 393.0,27.1 393.5,27.6 394.0,28.3 394.5,28.9 395.0,29.5 395.5,30.1 396.0,30.6 396.5,31.2 397.0,31.7 397.5,32.2 398.0,32.7 398.5,33.3 399.0,33.9 399.5,34.5 400.0,35.2 400.5,35.9 401.0,36.7 401.5,37.5 402.0,38.4 402.5,39.4 403.0,40.5 403.5,41.6 404.0,42.8 404.5,44.0 405.0,45.3 405.5,46.7 406.0,48.1 406.5,49.6 407.0,51.1 407.5,52.7 408.0,54.4 408.5,56.1 409.0,57.8 409.5,59.6 410.0,61.4 410.5,63.3 411.0,65.2 411.5,67.1 412.0,69.1 412.5,71.1 413.0,73.0 413.5,75.0 414.0,77.0 414.5,79.0 415.0,81.0 415.5,83.0 416.0,85.0 416.5,87.0 417.0,89.0 417.5,90.9 418.0,92.8 418.5,94.7 419.0,96.5 419.5,98.4 420.0,100.2 420.5,102.0 421.0,103.7 421.5,105.5 422.0,107.2 422.5,108.8 423.0,110.5 423.5,112.1 424.0,113.7 424.5,115.3 425.0,116.9 425.5,118.4 426.0,119.9 426.5,121.3 427.0,122.8 427.5,124.2 428.0,125.6 428.5,127.0 429.0,128.3 429.5,129.6 430.0,130.9 430.5,132.2 431.0,133.4 431.5,134.6 432.0,135.8 432.5,136.9 433.0,138.1 433.5,139.2 434.0,140.3 434.5,141.3 435.0,142.4 435.5,143.4 436.0,144.4 436.5,145.3 437.0,146.3 437.5,147.2 438.0,148.1 438.5,149.0 439.0,149.9 439.5,150.7 440.0,151.5 440.5,152.3 441.0,153.1 441.5,153.9 442.0,154.6 442.5,155.4 443.0,156.1 443.5,156.8 444.0,157.5 444.5,158.1 445.0,158.8 445.5,159.4 446.0,160.1 446.5,160.7 447.0,161.3 447.5,161.8 448.0,162.4 448.5,163.0 449.0,163.5 449.5,164.0 450.0,164.6 450.5,165.1 451.0,165.6 451.5,166.0 452.0,166.5 452.5,167.0 453.0,167.4 453.5,167.9 454.0,168.3 454.5,168.7 455.0,169.1 455.5,169.5 456.0,169.9 456.5,170.3 457.0,170.6 457.5,171.0 458.0,171.3 458.5,171.7 459.0,172.0 459.5,172.3 460.0,172.6 460.5,172.9 461.0,173.2 461.5,173.5 462.0,173.8 462.5,174.1 463.0,174.3 463.5,174.6 464.0,174.8 464.5,175.1 465.0,175.3 465.5,175.6 466.0,175.8 466.5,176.0 467.0,176.2 467.5,176.4 468.0,176.6 468.5,176.8 469.0,177.0 469.5,177.2 470.0,177.4 470.5,177.5 471.0,177.7 471.5,177.9 472.0,178.0 472.5,178.2 473.0,178.4 473.5,178.5 474.0,178.7 474.5,178.8 475.0,178.9 475.5,179.1 476.0,179.2 476.5,179.3 477.0,179.5 477.5,179.6 478.0,179.7 478.5,179.8 479.0,179.9 479.5,180.0 480.0,180.1 480.5,180.3 481.0,180.4 481.5,180.5 482.0,180.5 482.5,180.6 483.0,180.7 483.5,180.8 484.0,180.9 484.5,181.0 485.0,181.1 485.5,181.1 486.0,181.2 486.5,181.3 487.0,181.4 487.5,181.4 488.0,181.5 488.5,181.6 489.0,181.6 489.5,181.7 490.0,181.7 490.5,181.8 491.0,181.9 491.5,181.9 492.0,182.0 492.5,182.0 493.0,182.1 493.5,182.1 494.0,182.2 494.5,182.2 495.0,182.3 495.5,182.3 496.0,182.4 496.5,182.4 497.0,182.5 497.5,182.5 498.0,182.5 498.5,182.6 499.0,182.6 499.5,182.7 500.0,182.7 500.5,182.8 501.0,182.8 501.5,182.8 502.0,182.9 502.5,182.9 503.0,183.0 503.5,183.0 504.0,183.0 504.5,183.1 505.0,183.1 505.5,183.2 506.0,183.2 506.5,183.2 507.0,183.3 507.5,183.3 508.0,183.4 508.5,183.4 509.0,183.4 509.5,183.5 510.0,183.5 510.5,183.5 511.0,183.6 511.5,183.6 512.0,183.6 512.5,183.7 513.0,183.7 513.5,183.8 514.0,183.8 514.5,183.8 515.0,183.9 515.5,183.9 516.0,183.9 516.5,184.0 517.0,184.0 517.5,184.0 518.0,184.0 518.5,184.1 519.0,184.1 519.5,184.1 520.0,184.2 520.5,184.2 521.0,184.2 521.5,184.3 522.0,184.3 522.5,184.3 523.0,184.3 523.5,184.4 524.0,184.4 524.5,184.4 525.0,184.5 525.5,184.5 526.0,184.5 526.5,184.5 527.0,184.6 527.5,184.6 528.0,184.6 528.5,184.6 529.0,184.6 529.5,184.7 530.0,184.7 530.5,184.7 531.0,184.7 531.5,184.8 532.0,184.8 532.5,184.8 533.0,184.8 533.5,184.8 534.0,184.9 534.5,184.9 535.0,184.9 535.5,184.9 536.0,184.9 536.5,185.0 537.0,185.0 537.5,185.0 538.0,185.0 538.5,185.0 539.0,185.0 539.5,185.1 540.0,185.1 540.5,185.1 541.0,185.1 541.5,185.1 542.0,185.1 542.5,185.2 543.0,185.2 543.5,185.2 544.0,185.2 544.5,185.2 545.0,185.2 545.5,185.2 546.0,185.3 546.5,185.3 547.0,185.3 547.5,185.3 548.0,185.3 548.5,185.3 549.0,185.3 549.5,185.4 550.0,185.4 550.5,185.4 551.0,185.4 551.5,185.4 552.0,185.4 552.5,185.4 553.0,185.4 553.5,185.5 554.0,185.5 554.5,185.5 555.0,185.5 555.5,185.5 556.0,185.5 556.5,185.5 557.0,185.5 557.5,185.5 558.0,185.6 558.5,185.6 559.0,185.6 559.5,185.6 560.0,185.6 560.5,185.6 561.0,185.6 561.5,185.6 562.0,185.6 562.5,185.7 563.0,185.7 563.5,185.7 564.0,185.7 564.5,185.7 565.0,185.7 565.5,185.7 566.0,185.7 566.5,185.7 567.0,185.8 567.5,185.8 568.0,185.8 568.5,185.8 569.0,185.8 569.5,185.8 570.0,185.8 570.5,185.8 571.0,185.8 571.5,185.9 572.0,185.9 572.5,185.9 573.0,185.9 573.5,185.9 574.0,185.9 574.5,185.9 575.0,185.9 575.5,186.0 576.0,186.0 576.5,186.0 577.0,186.0 577.5,186.0 578.0,186.0 578.5,186.0 579.0,186.1 579.5,186.1 580.0,186.1 580.5,186.1" stroke="#111" stroke-dasharray="5.5 3.2 1.6 3.2"/>
<path d="M341.0,92.5 341.5,94.8 342.0,97.2 342.5,99.6 343.0,102.1 343.5,104.7 344.0,107.3 344.5,109.8 345.0,112.4 345.5,115.0 346.0,117.4 346.5,119.9 347.0,122.2 347.5,124.4 348.0,126.5 348.5,128.5 349.0,130.3 349.5,131.9 350.0,133.2 350.5,134.3 351.0,135.1 351.5,135.5 352.0,135.6 352.5,135.2 353.0,134.5 353.5,133.3 354.0,131.5 354.5,129.4 355.0,126.8 355.5,123.8 356.0,120.5 356.5,117.1 357.0,113.4 357.5,109.7 358.0,105.9 358.5,102.1 359.0,98.4 359.5,94.8 360.0,91.5 360.5,88.4 361.0,85.5 361.5,82.8 362.0,80.2 362.5,77.9 363.0,75.7 363.5,73.7 364.0,71.7 364.5,69.9 365.0,68.1 365.5,66.5 366.0,64.9 366.5,63.3 367.0,61.8 367.5,60.3 368.0,58.8 368.5,57.4 369.0,56.0 369.5,54.6 370.0,53.3 370.5,52.0 371.0,50.7 371.5,49.4 372.0,48.1 372.5,46.8 373.0,45.6 373.5,44.3 374.0,43.1 374.5,41.8 375.0,40.6 375.5,39.3 376.0,38.1 376.5,36.9 377.0,35.7 377.5,34.5 378.0,33.4 378.5,32.4 379.0,31.3 379.5,30.4 380.0,29.5 380.5,28.7 381.0,27.9 381.5,27.3 382.0,26.7 382.5,26.3 383.0,25.9 383.5,25.6 384.0,25.4 384.5,25.3 385.0,25.2 385.5,25.2 386.0,25.2 386.5,25.2 387.0,25.3 387.5,25.4 388.0,25.5 388.5,25.6 389.0,25.7 389.5,25.9 390.0,26.0 390.5,26.1 391.0,26.3 391.5,26.4 392.0,26.6 392.5,26.8 393.0,27.0 393.5,27.2 394.0,27.4 394.5,27.7 395.0,28.0 395.5,28.3 396.0,28.6 396.5,28.9 397.0,29.3 397.5,29.6 398.0,30.0 398.5,30.4 399.0,30.8 399.5,31.2 400.0,31.6 400.5,32.0 401.0,32.4 401.5,32.9 402.0,33.3 402.5,33.7 403.0,34.1 403.5,34.6 404.0,35.0 404.5,35.4 405.0,35.8 405.5,36.2 406.0,36.6 406.5,37.0 407.0,37.3 407.5,37.7 408.0,38.0 408.5,38.4 409.0,38.7 409.5,39.0 410.0,39.3 410.5,39.5 411.0,39.8 411.5,40.0 412.0,40.3 412.5,40.5 413.0,40.8 413.5,41.0 414.0,41.2 414.5,41.4 415.0,41.6 415.5,41.8 416.0,41.9 416.5,42.1 417.0,42.3 417.5,42.5 418.0,42.6 418.5,42.8 419.0,43.0 419.5,43.1 420.0,43.3 420.5,43.5 421.0,43.6 421.5,43.8 422.0,43.9 422.5,44.1 423.0,44.2 423.5,44.4 424.0,44.5 424.5,44.7 425.0,44.8 425.5,45.0 426.0,45.2 426.5,45.3 427.0,45.5 427.5,45.6 428.0,45.8 428.5,45.9 429.0,46.1 429.5,46.2 430.0,46.4 430.5,46.5 431.0,46.7 431.5,46.9 432.0,47.0 432.5,47.2 433.0,47.4 433.5,47.5 434.0,47.7 434.5,47.9 435.0,48.0 435.5,48.2 436.0,48.4 436.5,48.6 437.0,48.7 437.5,48.9 438.0,49.1 438.5,49.3 439.0,49.5 439.5,49.6 440.0,49.8 440.5,50.0 441.0,50.2 441.5,50.4 442.0,50.5 442.5,50.7 443.0,50.9 443.5,51.1 444.0,51.3 444.5,51.5 445.0,51.6 445.5,51.8 446.0,52.0 446.5,52.2 447.0,52.4 447.5,52.6 448.0,52.7 448.5,52.9 449.0,53.1 449.5,53.3 450.0,53.4 450.5,53.6 451.0,53.8 451.5,54.0 452.0,54.1 452.5,54.3 453.0,54.5 453.5,54.6 454.0,54.8 454.5,55.0 455.0,55.1 455.5,55.3 456.0,55.4 456.5,55.6 457.0,55.8 457.5,55.9 458.0,56.1 458.5,56.2 459.0,56.4 459.5,56.5 460.0,56.7 460.5,56.8 461.0,57.0 461.5,57.1 462.0,57.2 462.5,57.4 463.0,57.5 463.5,57.7 464.0,57.8 464.5,57.9 465.0,58.1 465.5,58.2 466.0,58.3 466.5,58.4 467.0,58.6 467.5,58.7 468.0,58.8 468.5,58.9 469.0,59.1 469.5,59.2 470.0,59.3 470.5,59.4 471.0,59.5 471.5,59.6 472.0,59.7 472.5,59.8 473.0,59.9 473.5,60.1 474.0,60.2 474.5,60.3 475.0,60.4 475.5,60.5 476.0,60.5 476.5,60.6 477.0,60.7 477.5,60.8 478.0,60.9 478.5,61.0 479.0,61.1 479.5,61.2 480.0,61.3 480.5,61.3 481.0,61.4 481.5,61.5 482.0,61.6 482.5,61.6 483.0,61.7 483.5,61.8 484.0,61.9 484.5,61.9 485.0,62.0 485.5,62.1 486.0,62.1 486.5,62.2 487.0,62.3 487.5,62.3 488.0,62.4 488.5,62.4 489.0,62.5 489.5,62.5 490.0,62.6 490.5,62.7 491.0,62.7 491.5,62.8 492.0,62.8 492.5,62.9 493.0,62.9 493.5,63.0 494.0,63.0 494.5,63.1 495.0,63.1 495.5,63.1 496.0,63.2 496.5,63.2 497.0,63.3 497.5,63.3 498.0,63.3 498.5,63.4 499.0,63.4 499.5,63.5 500.0,63.5 500.5,63.5 501.0,63.6 501.5,63.6 502.0,63.6 502.5,63.7 503.0,63.7 503.5,63.7 504.0,63.8 504.5,63.8 505.0,63.8 505.5,63.9 506.0,63.9 506.5,63.9 507.0,63.9 507.5,64.0 508.0,64.0 508.5,64.0 509.0,64.1 509.5,64.1 510.0,64.1 510.5,64.1 511.0,64.2 511.5,64.2 512.0,64.2 512.5,64.2 513.0,64.3 513.5,64.3 514.0,64.3 514.5,64.3 515.0,64.4 515.5,64.4 516.0,64.4 516.5,64.4 517.0,64.4 517.5,64.5 518.0,64.5 518.5,64.5 519.0,64.5 519.5,64.5 520.0,64.6 520.5,64.6 521.0,64.6 521.5,64.6 522.0,64.7 522.5,64.7 523.0,64.7 523.5,64.7 524.0,64.7 524.5,64.8 525.0,64.8 525.5,64.8 526.0,64.8 526.5,64.8 527.0,64.9 527.5,64.9 528.0,64.9 528.5,64.9 529.0,64.9 529.5,65.0 530.0,65.0 530.5,65.0 531.0,65.0 531.5,65.1 532.0,65.1 532.5,65.1 533.0,65.1 533.5,65.1 534.0,65.2 534.5,65.2 535.0,65.2 535.5,65.2 536.0,65.3 536.5,65.3 537.0,65.3 537.5,65.3 538.0,65.4 538.5,65.4 539.0,65.4 539.5,65.4 540.0,65.5 540.5,65.5 541.0,65.5 541.5,65.5 542.0,65.6 542.5,65.6 543.0,65.6 543.5,65.7 544.0,65.7 544.5,65.7 545.0,65.7 545.5,65.8 546.0,65.8 546.5,65.8 547.0,65.8 547.5,65.9 548.0,65.9 548.5,65.9 549.0,66.0 549.5,66.0 550.0,66.0 550.5,66.0 551.0,66.1 551.5,66.1 552.0,66.1 552.5,66.2 553.0,66.2 553.5,66.2 554.0,66.2 554.5,66.3 555.0,66.3 555.5,66.3 556.0,66.4 556.5,66.4 557.0,66.4 557.5,66.5 558.0,66.5 558.5,66.5 559.0,66.5 559.5,66.6 560.0,66.6 560.5,66.6 561.0,66.7 561.5,66.7 562.0,66.7 562.5,66.7 563.0,66.8 563.5,66.8 564.0,66.8 564.5,66.9 565.0,66.9 565.5,66.9 566.0,66.9 566.5,67.0 567.0,67.0 567.5,67.0 568.0,67.1 568.5,67.1 569.0,67.1 569.5,67.2 570.0,67.2 570.5,67.2 571.0,67.3 571.5,67.3 572.0,67.3 572.5,67.3 573.0,67.4 573.5,67.4 574.0,67.4 574.5,67.5 575.0,67.5 575.5,67.5 576.0,67.6 576.5,67.6 577.0,67.7 577.5,67.7 578.0,67.7 578.5,67.8 579.0,67.8 579.5,67.8 580.0,67.9 580.5,67.9" stroke="#e61e10"/>
<path d="M341.0,156.9 341.5,158.8 342.0,160.6 342.5,162.3 343.0,163.8 343.5,165.2 344.0,166.5 344.5,167.7 345.0,168.8 345.5,169.8 346.0,170.7 346.5,171.5 347.0,172.3 347.5,172.9 348.0,173.5 348.5,174.0 349.0,174.5 349.5,174.9 350.0,175.2 350.5,175.4 351.0,175.6 351.5,175.7 352.0,175.6 352.5,175.5 353.0,175.3 353.5,175.0 354.0,174.6 354.5,174.1 355.0,173.4 355.5,172.7 356.0,171.9 356.5,171.0 357.0,170.1 357.5,169.0 358.0,167.9 358.5,166.7 359.0,165.4 359.5,164.1 360.0,162.7 360.5,161.2 361.0,159.7 361.5,158.2 362.0,156.6 362.5,155.1 363.0,153.5 363.5,151.9 364.0,150.3 364.5,148.8 365.0,147.2 365.5,145.8 366.0,144.3 366.5,142.9 367.0,141.6 367.5,140.2 368.0,139.0 368.5,137.7 369.0,136.5 369.5,135.2 370.0,134.0 370.5,132.8 371.0,131.5 371.5,130.3 372.0,129.0 372.5,127.7 373.0,126.3 373.5,124.9 374.0,123.4 374.5,121.9 375.0,120.3 375.5,118.7 376.0,117.0 376.5,115.2 377.0,113.4 377.5,111.5 378.0,109.6 378.5,107.7 379.0,105.7 379.5,103.6 380.0,101.6 380.5,99.5 381.0,97.3 381.5,95.2 382.0,93.0 382.5,90.8 383.0,88.6 383.5,86.4 384.0,84.1 384.5,81.9 385.0,79.6 385.5,77.4 386.0,75.1 386.5,72.9 387.0,70.6 387.5,68.4 388.0,66.2 388.5,64.0 389.0,61.8 389.5,59.7 390.0,57.6 390.5,55.5 391.0,53.5 391.5,51.5 392.0,49.5 392.5,47.6 393.0,45.8 393.5,44.0 394.0,42.3 394.5,40.6 395.0,39.0 395.5,37.5 396.0,36.1 396.5,34.8 397.0,33.5 397.5,32.3 398.0,31.2 398.5,30.2 399.0,29.2 399.5,28.4 400.0,27.7 400.5,27.0 401.0,26.4 401.5,26.0 402.0,25.6 402.5,25.3 403.0,25.2 403.5,25.1 404.0,25.1 404.5,25.2 405.0,25.3 405.5,25.6 406.0,25.9 406.5,26.2 407.0,26.6 407.5,27.1 408.0,27.7 408.5,28.2 409.0,28.9 409.5,29.6 410.0,30.3 410.5,31.2 411.0,32.1 411.5,33.0 412.0,34.0 412.5,35.1 413.0,36.3 413.5,37.6 414.0,38.9 414.5,40.3 415.0,41.8 415.5,43.3 416.0,44.9 416.5,46.5 417.0,48.1 417.5,49.8 418.0,51.5 418.5,53.2 419.0,55.0 419.5,56.7 420.0,58.4 420.5,60.1 421.0,61.8 421.5,63.4 422.0,65.1 422.5,66.7 423.0,68.3 423.5,69.9 424.0,71.4 424.5,73.0 425.0,74.6 425.5,76.1 426.0,77.6 426.5,79.2 427.0,80.7 427.5,82.2 428.0,83.7 428.5,85.2 429.0,86.7 429.5,88.2 430.0,89.7 430.5,91.2 431.0,92.7 431.5,94.2 432.0,95.6 432.5,97.1 433.0,98.6 433.5,100.0 434.0,101.4 434.5,102.9 435.0,104.3 435.5,105.7 436.0,107.0 436.5,108.4 437.0,109.7 437.5,111.1 438.0,112.4 438.5,113.7 439.0,114.9 439.5,116.2 440.0,117.4 440.5,118.6 441.0,119.8 441.5,120.9 442.0,122.0 442.5,123.1 443.0,124.2 443.5,125.3 444.0,126.3 444.5,127.3 445.0,128.3 445.5,129.3 446.0,130.2 446.5,131.1 447.0,132.0 447.5,132.9 448.0,133.8 448.5,134.6 449.0,135.5 449.5,136.3 450.0,137.1 450.5,137.8 451.0,138.6 451.5,139.4 452.0,140.1 452.5,140.8 453.0,141.5 453.5,142.2 454.0,142.9 454.5,143.5 455.0,144.2 455.5,144.8 456.0,145.5 456.5,146.1 457.0,146.7 457.5,147.3 458.0,147.9 458.5,148.5 459.0,149.0 459.5,149.6 460.0,150.2 460.5,150.7 461.0,151.2 461.5,151.8 462.0,152.3 462.5,152.8 463.0,153.3 463.5,153.8 464.0,154.3 464.5,154.8 465.0,155.2 465.5,155.7 466.0,156.1 466.5,156.6 467.0,157.0 467.5,157.5 468.0,157.9 468.5,158.3 469.0,158.7 469.5,159.1 470.0,159.5 470.5,159.9 471.0,160.3 471.5,160.7 472.0,161.1 472.5,161.4 473.0,161.8 473.5,162.2 474.0,162.5 474.5,162.9 475.0,163.2 475.5,163.5 476.0,163.9 476.5,164.2 477.0,164.5 477.5,164.8 478.0,165.1 478.5,165.5 479.0,165.8 479.5,166.1 480.0,166.4 480.5,166.6 481.0,166.9 481.5,167.2 482.0,167.5 482.5,167.8 483.0,168.0 483.5,168.3 484.0,168.6 484.5,168.8 485.0,169.1 485.5,169.3 486.0,169.6 486.5,169.8 487.0,170.1 487.5,170.3 488.0,170.6 488.5,170.8 489.0,171.0 489.5,171.2 490.0,171.5 490.5,171.7 491.0,171.9 491.5,172.1 492.0,172.3 492.5,172.5 493.0,172.7 493.5,172.9 494.0,173.1 494.5,173.3 495.0,173.5 495.5,173.7 496.0,173.9 496.5,174.1 497.0,174.3 497.5,174.4 498.0,174.6 498.5,174.8 499.0,175.0 499.5,175.1 500.0,175.3 500.5,175.5 501.0,175.6 501.5,175.8 502.0,175.9 502.5,176.1 503.0,176.2 503.5,176.4 504.0,176.5 504.5,176.7 505.0,176.8 505.5,177.0 506.0,177.1 506.5,177.3 507.0,177.4 507.5,177.5 508.0,177.7 508.5,177.8 509.0,177.9 509.5,178.1 510.0,178.2 510.5,178.3 511.0,178.4 511.5,178.6 512.0,178.7 512.5,178.8 513.0,178.9 513.5,179.0 514.0,179.2 514.5,179.3 515.0,179.4 515.5,179.5 516.0,179.6 516.5,179.7 517.0,179.8 517.5,179.9 518.0,180.0 518.5,180.1 519.0,180.2 519.5,180.3 520.0,180.4 520.5,180.5 521.0,180.6 521.5,180.7 522.0,180.8 522.5,180.9 523.0,181.0 523.5,181.0 524.0,181.1 524.5,181.2 525.0,181.3 525.5,181.4 526.0,181.5 526.5,181.5 527.0,181.6 527.5,181.7 528.0,181.8 528.5,181.8 529.0,181.9 529.5,182.0 530.0,182.1 530.5,182.1 531.0,182.2 531.5,182.3 532.0,182.3 532.5,182.4 533.0,182.4 533.5,182.5 534.0,182.6 534.5,182.6 535.0,182.7 535.5,182.7 536.0,182.8 536.5,182.9 537.0,182.9 537.5,183.0 538.0,183.0 538.5,183.1 539.0,183.1 539.5,183.2 540.0,183.2 540.5,183.3 541.0,183.3 541.5,183.3 542.0,183.4 542.5,183.4 543.0,183.5 543.5,183.5 544.0,183.6 544.5,183.6 545.0,183.6 545.5,183.7 546.0,183.7 546.5,183.8 547.0,183.8 547.5,183.8 548.0,183.9 548.5,183.9 549.0,183.9 549.5,184.0 550.0,184.0 550.5,184.1 551.0,184.1 551.5,184.1 552.0,184.2 552.5,184.2 553.0,184.2 553.5,184.2 554.0,184.3 554.5,184.3 555.0,184.3 555.5,184.4 556.0,184.4 556.5,184.4 557.0,184.5 557.5,184.5 558.0,184.5 558.5,184.6 559.0,184.6 559.5,184.6 560.0,184.6 560.5,184.7 561.0,184.7 561.5,184.7 562.0,184.8 562.5,184.8 563.0,184.8 563.5,184.8 564.0,184.9 564.5,184.9 565.0,184.9 565.5,185.0 566.0,185.0 566.5,185.0 567.0,185.0 567.5,185.1 568.0,185.1 568.5,185.1 569.0,185.2 569.5,185.2 570.0,185.2 570.5,185.2 571.0,185.2 571.5,185.3 572.0,185.3 572.5,185.3 573.0,185.3 573.5,185.4 574.0,185.4 574.5,185.4 575.0,185.4 575.5,185.4 576.0,185.4 576.5,185.4 577.0,185.4 577.5,185.5 578.0,185.5 578.5,185.5 579.0,185.5 579.5,185.5 580.0,185.5 580.5,185.5" stroke="#111"/>
</g>
<rect x="340" y="1" width="240.5" height="186.5" fill="none" stroke="#111" stroke-width="1.8"/>
<path d="M340.00,187.5 v3.6 M364.05,187.5 v2.0 M388.10,187.5 v3.6 M412.15,187.5 v2.0 M436.20,187.5 v3.6 M460.25,187.5 v2.0 M484.30,187.5 v3.6 M508.35,187.5 v2.0 M532.40,187.5 v3.6 M556.45,187.5 v2.0 M580.50,187.5 v3.6 " stroke="#111" stroke-width="1.5"/>
<text x="340.00" y="202.1" text-anchor="middle" class="tk">300</text>
<text x="388.10" y="202.1" text-anchor="middle" class="tk">400</text>
<text x="436.20" y="202.1" text-anchor="middle" class="tk">500</text>
<text x="484.30" y="202.1" text-anchor="middle" class="tk">600</text>
<text x="532.40" y="202.1" text-anchor="middle" class="tk">700</text>
<text x="580.50" y="202.1" text-anchor="middle" class="tk">800</text>
<text x="460.25" y="218.1" text-anchor="middle" class="ti">Wavelength / nm</text>
<text transform="translate(329.8,94.25) rotate(-90)" text-anchor="middle" class="ti">Normalized optical density</text>
<rect x="293.4" y="0" width="18.1" height="17.6" fill="#111"/>
<text x="302.7" y="15.5" text-anchor="middle" class="pl" style="font-size:20px">b</text>
<rect x="443.9" y="10.0" width="127.0" height="29.5" fill="#111"/>
<rect x="442.4" y="8.5" width="127.0" height="29.5" fill="#fff" stroke="#555" stroke-width="0.8"/>
<text x="506" y="19.2" text-anchor="middle" class="bx">Ag-SiO<tspan dy="3" font-size="8">2</tspan></text>
<text x="507.2" y="34.6" text-anchor="middle" class="bx">shell thickness: 5 nm</text>
<clipPath id="clip47233"><rect x="47" y="233" width="241" height="186.5"/></clipPath>
<g clip-path="url(#clip47233)" fill="none" stroke-width="1.6" stroke-linejoin="round">
<path d="M47.0,288.9 47.5,290.9 48.0,293.2 48.5,295.6 49.0,298.2 49.5,300.9 50.0,303.8 50.5,306.7 51.0,309.7 51.5,312.8 52.0,315.9 52.5,318.9 53.0,321.9 53.5,324.9 54.0,327.7 54.5,330.5 55.0,333.1 55.5,335.5 56.0,337.7 56.5,339.8 57.0,341.7 57.5,343.4 58.0,344.9 58.5,346.2 59.0,347.4 59.5,348.3 60.0,348.9 60.5,349.4 61.0,349.7 61.5,349.7 62.0,349.5 62.5,349.0 63.0,348.4 63.5,347.6 64.0,346.6 64.5,345.4 65.0,344.0 65.5,342.5 66.0,340.8 66.5,339.0 67.0,337.0 67.5,334.9 68.0,332.7 68.5,330.4 69.0,328.1 69.5,325.7 70.0,323.2 70.5,320.8 71.0,318.3 71.5,315.9 72.0,313.6 72.5,311.3 73.0,309.1 73.5,307.0 74.0,305.1 74.5,303.2 75.0,301.4 75.5,299.7 76.0,298.1 76.5,296.6 77.0,295.1 77.5,293.7 78.0,292.4 78.5,291.1 79.0,289.8 79.5,288.6 80.0,287.4 80.5,286.3 81.0,285.1 81.5,284.0 82.0,283.0 82.5,281.9 83.0,280.8 83.5,279.8 84.0,278.8 84.5,277.8 85.0,276.8 85.5,275.8 86.0,274.8 86.5,273.8 87.0,272.8 87.5,271.8 88.0,270.9 88.5,269.9 89.0,268.9 89.5,267.9 90.0,266.9 90.5,265.9 91.0,264.9 91.5,263.9 92.0,262.9 92.5,262.0 93.0,261.1 93.5,260.2 94.0,259.4 94.5,258.7 95.0,258.1 95.5,257.5 96.0,257.1 96.5,256.7 97.0,256.5 97.5,256.3 98.0,256.3 98.5,256.3 99.0,256.3 99.5,256.4 100.0,256.5 100.5,256.7 101.0,256.9 101.5,257.0 102.0,257.2 102.5,257.3 103.0,257.5 103.5,257.6 104.0,257.7 104.5,257.8 105.0,258.0 105.5,258.2 106.0,258.5 106.5,258.8 107.0,259.2 107.5,259.7 108.0,260.2 108.5,260.9 109.0,261.7 109.5,262.6 110.0,263.6 110.5,264.6 111.0,265.7 111.5,266.9 112.0,268.1 112.5,269.3 113.0,270.6 113.5,271.8 114.0,273.1 114.5,274.3 115.0,275.5 115.5,276.7 116.0,277.8 116.5,279.0 117.0,280.1 117.5,281.1 118.0,282.2 118.5,283.2 119.0,284.2 119.5,285.2 120.0,286.1 120.5,287.1 121.0,288.0 121.5,288.9 122.0,289.8 122.5,290.7 123.0,291.6 123.5,292.4 124.0,293.3 124.5,294.1 125.0,295.0 125.5,295.8 126.0,296.7 126.5,297.5 127.0,298.3 127.5,299.1 128.0,299.9 128.5,300.7 129.0,301.5 129.5,302.3 130.0,303.1 130.5,303.9 131.0,304.6 131.5,305.4 132.0,306.2 132.5,306.9 133.0,307.7 133.5,308.5 134.0,309.2 134.5,310.0 135.0,310.7 135.5,311.5 136.0,312.2 136.5,312.9 137.0,313.7 137.5,314.4 138.0,315.1 138.5,315.9 139.0,316.6 139.5,317.3 140.0,318.0 140.5,318.8 141.0,319.5 141.5,320.2 142.0,320.9 142.5,321.6 143.0,322.3 143.5,323.0 144.0,323.7 144.5,324.4 145.0,325.1 145.5,325.8 146.0,326.5 146.5,327.2 147.0,327.9 147.5,328.6 148.0,329.2 148.5,329.9 149.0,330.6 149.5,331.3 150.0,331.9 150.5,332.6 151.0,333.3 151.5,333.9 152.0,334.6 152.5,335.3 153.0,335.9 153.5,336.6 154.0,337.2 154.5,337.9 155.0,338.5 155.5,339.1 156.0,339.8 156.5,340.4 157.0,341.1 157.5,341.7 158.0,342.3 158.5,342.9 159.0,343.5 159.5,344.2 160.0,344.8 160.5,345.4 161.0,346.0 161.5,346.6 162.0,347.2 162.5,347.8 163.0,348.3 163.5,348.9 164.0,349.5 164.5,350.1 165.0,350.7 165.5,351.2 166.0,351.8 166.5,352.3 167.0,352.9 167.5,353.4 168.0,354.0 168.5,354.5 169.0,355.0 169.5,355.6 170.0,356.1 170.5,356.6 171.0,357.1 171.5,357.6 172.0,358.1 172.5,358.6 173.0,359.1 173.5,359.6 174.0,360.1 174.5,360.6 175.0,361.0 175.5,361.5 176.0,362.0 176.5,362.4 177.0,362.9 177.5,363.3 178.0,363.8 178.5,364.2 179.0,364.6 179.5,365.0 180.0,365.5 180.5,365.9 181.0,366.3 181.5,366.7 182.0,367.1 182.5,367.5 183.0,367.9 183.5,368.3 184.0,368.7 184.5,369.1 185.0,369.4 185.5,369.8 186.0,370.2 186.5,370.6 187.0,370.9 187.5,371.3 188.0,371.7 188.5,372.0 189.0,372.4 189.5,372.7 190.0,373.1 190.5,373.4 191.0,373.8 191.5,374.1 192.0,374.4 192.5,374.8 193.0,375.1 193.5,375.4 194.0,375.8 194.5,376.1 195.0,376.4 195.5,376.8 196.0,377.1 196.5,377.4 197.0,377.7 197.5,378.0 198.0,378.4 198.5,378.7 199.0,379.0 199.5,379.3 200.0,379.6 200.5,379.9 201.0,380.2 201.5,380.5 202.0,380.9 202.5,381.2 203.0,381.5 203.5,381.8 204.0,382.1 204.5,382.4 205.0,382.7 205.5,383.0 206.0,383.3 206.5,383.6 207.0,383.9 207.5,384.2 208.0,384.5 208.5,384.8 209.0,385.1 209.5,385.4 210.0,385.7 210.5,386.0 211.0,386.3 211.5,386.6 212.0,386.8 212.5,387.1 213.0,387.4 213.5,387.7 214.0,388.0 214.5,388.3 215.0,388.5 215.5,388.8 216.0,389.1 216.5,389.4 217.0,389.6 217.5,389.9 218.0,390.2 218.5,390.4 219.0,390.7 219.5,391.0 220.0,391.2 220.5,391.5 221.0,391.7 221.5,392.0 222.0,392.2 222.5,392.5 223.0,392.7 223.5,393.0 224.0,393.2 224.5,393.5 225.0,393.7 225.5,393.9 226.0,394.2 226.5,394.4 227.0,394.6 227.5,394.8 228.0,395.1 228.5,395.3 229.0,395.5 229.5,395.7 230.0,395.9 230.5,396.1 231.0,396.3 231.5,396.5 232.0,396.7 232.5,396.9 233.0,397.1 233.5,397.3 234.0,397.5 234.5,397.6 235.0,397.8 235.5,398.0 236.0,398.2 236.5,398.3 237.0,398.5 237.5,398.7 238.0,398.8 238.5,399.0 239.0,399.2 239.5,399.3 240.0,399.5 240.5,399.6 241.0,399.8 241.5,399.9 242.0,400.1 242.5,400.2 243.0,400.4 243.5,400.5 244.0,400.6 244.5,400.8 245.0,400.9 245.5,401.0 246.0,401.2 246.5,401.3 247.0,401.4 247.5,401.6 248.0,401.7 248.5,401.8 249.0,401.9 249.5,402.0 250.0,402.2 250.5,402.3 251.0,402.4 251.5,402.5 252.0,402.6 252.5,402.7 253.0,402.8 253.5,402.9 254.0,403.1 254.5,403.2 255.0,403.3 255.5,403.4 256.0,403.5 256.5,403.6 257.0,403.7 257.5,403.8 258.0,403.9 258.5,404.0 259.0,404.1 259.5,404.2 260.0,404.3 260.5,404.4 261.0,404.4 261.5,404.5 262.0,404.6 262.5,404.7 263.0,404.8 263.5,404.9 264.0,405.0 264.5,405.1 265.0,405.2 265.5,405.3 266.0,405.3 266.5,405.4 267.0,405.5 267.5,405.6 268.0,405.7 268.5,405.8 269.0,405.8 269.5,405.9 270.0,406.0 270.5,406.1 271.0,406.1 271.5,406.2 272.0,406.3 272.5,406.4 273.0,406.5 273.5,406.5 274.0,406.6 274.5,406.7 275.0,406.7 275.5,406.8 276.0,406.9 276.5,407.0 277.0,407.0 277.5,407.1 278.0,407.2 278.5,407.2 279.0,407.3 279.5,407.4 280.0,407.4 280.5,407.5 281.0,407.5 281.5,407.6 282.0,407.7 282.5,407.7 283.0,407.8 283.5,407.9 284.0,407.9 284.5,408.0 285.0,408.0 285.5,408.1 286.0,408.1 286.5,408.2 287.0,408.3 287.5,408.3 288.0,408.4" stroke="#e61e10" stroke-dasharray="5.5 3.2 1.6 3.2"/>
<path d="M47.0,360.9 47.5,363.7 48.0,366.4 48.5,368.9 49.0,371.2 49.5,373.4 50.0,375.5 50.5,377.4 51.0,379.3 51.5,381.0 52.0,382.6 52.5,384.1 53.0,385.5 53.5,386.9 54.0,388.2 54.5,389.5 55.0,390.7 55.5,391.9 56.0,393.0 56.5,394.1 57.0,395.2 57.5,396.3 58.0,397.2 58.5,398.1 59.0,398.9 59.5,399.6 60.0,400.2 60.5,400.7 61.0,401.0 61.5,401.2 62.0,401.3 62.5,401.2 63.0,400.9 63.5,400.5 64.0,400.0 64.5,399.3 65.0,398.4 65.5,397.4 66.0,396.3 66.5,395.0 67.0,393.6 67.5,392.0 68.0,390.3 68.5,388.5 69.0,386.6 69.5,384.5 70.0,382.4 70.5,380.2 71.0,377.9 71.5,375.6 72.0,373.2 72.5,370.8 73.0,368.4 73.5,366.0 74.0,363.6 74.5,361.2 75.0,358.9 75.5,356.5 76.0,354.2 76.5,351.9 77.0,349.6 77.5,347.3 78.0,345.0 78.5,342.8 79.0,340.6 79.5,338.5 80.0,336.3 80.5,334.2 81.0,332.2 81.5,330.2 82.0,328.1 82.5,326.2 83.0,324.2 83.5,322.2 84.0,320.3 84.5,318.3 85.0,316.4 85.5,314.4 86.0,312.4 86.5,310.4 87.0,308.4 87.5,306.3 88.0,304.2 88.5,302.1 89.0,299.9 89.5,297.7 90.0,295.4 90.5,293.0 91.0,290.6 91.5,288.2 92.0,285.7 92.5,283.2 93.0,280.7 93.5,278.3 94.0,275.9 94.5,273.6 95.0,271.4 95.5,269.3 96.0,267.3 96.5,265.5 97.0,263.8 97.5,262.4 98.0,261.1 98.5,260.0 99.0,259.0 99.5,258.3 100.0,257.7 100.5,257.2 101.0,256.9 101.5,256.8 102.0,256.7 102.5,256.8 103.0,256.9 103.5,257.2 104.0,257.5 104.5,258.0 105.0,258.5 105.5,259.1 106.0,259.8 106.5,260.6 107.0,261.5 107.5,262.5 108.0,263.6 108.5,264.8 109.0,266.1 109.5,267.5 110.0,268.9 110.5,270.5 111.0,272.2 111.5,273.9 112.0,275.7 112.5,277.6 113.0,279.5 113.5,281.5 114.0,283.5 114.5,285.6 115.0,287.6 115.5,289.7 116.0,291.9 116.5,294.0 117.0,296.2 117.5,298.3 118.0,300.5 118.5,302.7 119.0,304.8 119.5,307.0 120.0,309.2 120.5,311.3 121.0,313.5 121.5,315.6 122.0,317.8 122.5,319.9 123.0,322.0 123.5,324.1 124.0,326.1 124.5,328.1 125.0,330.1 125.5,332.1 126.0,334.1 126.5,336.0 127.0,337.9 127.5,339.8 128.0,341.6 128.5,343.4 129.0,345.2 129.5,347.0 130.0,348.7 130.5,350.4 131.0,352.0 131.5,353.7 132.0,355.2 132.5,356.8 133.0,358.3 133.5,359.8 134.0,361.3 134.5,362.7 135.0,364.1 135.5,365.5 136.0,366.8 136.5,368.1 137.0,369.3 137.5,370.5 138.0,371.7 138.5,372.9 139.0,374.0 139.5,375.1 140.0,376.1 140.5,377.2 141.0,378.2 141.5,379.2 142.0,380.1 142.5,381.0 143.0,381.9 143.5,382.8 144.0,383.7 144.5,384.5 145.0,385.3 145.5,386.1 146.0,386.8 146.5,387.6 147.0,388.3 147.5,389.0 148.0,389.7 148.5,390.3 149.0,391.0 149.5,391.6 150.0,392.2 150.5,392.8 151.0,393.4 151.5,394.0 152.0,394.5 152.5,395.0 153.0,395.5 153.5,396.0 154.0,396.5 154.5,397.0 155.0,397.5 155.5,397.9 156.0,398.4 156.5,398.8 157.0,399.2 157.5,399.6 158.0,400.0 158.5,400.4 159.0,400.7 159.5,401.1 160.0,401.4 160.5,401.8 161.0,402.1 161.5,402.4 162.0,402.7 162.5,403.0 163.0,403.3 163.5,403.6 164.0,403.8 164.5,404.1 165.0,404.4 165.5,404.6 166.0,404.9 166.5,405.1 167.0,405.3 167.5,405.6 168.0,405.8 168.5,406.0 169.0,406.2 169.5,406.5 170.0,406.7 170.5,406.9 171.0,407.1 171.5,407.3 172.0,407.5 172.5,407.6 173.0,407.8 173.5,408.0 174.0,408.2 174.5,408.4 175.0,408.5 175.5,408.7 176.0,408.9 176.5,409.0 177.0,409.2 177.5,409.3 178.0,409.5 178.5,409.6 179.0,409.8 179.5,409.9 180.0,410.1 180.5,410.2 181.0,410.4 181.5,410.5 182.0,410.6 182.5,410.7 183.0,410.9 183.5,411.0 184.0,411.1 184.5,411.2 185.0,411.3 185.5,411.5 186.0,411.6 186.5,411.7 187.0,411.8 187.5,411.9 188.0,412.0 188.5,412.1 189.0,412.2 189.5,412.3 190.0,412.4 190.5,412.5 191.0,412.5 191.5,412.6 192.0,412.7 192.5,412.8 193.0,412.9 193.5,413.0 194.0,413.0 194.5,413.1 195.0,413.2 195.5,413.3 196.0,413.3 196.5,413.4 197.0,413.5 197.5,413.6 198.0,413.6 198.5,413.7 199.0,413.8 199.5,413.8 200.0,413.9 200.5,413.9 201.0,414.0 201.5,414.1 202.0,414.1 202.5,414.2 203.0,414.2 203.5,414.3 204.0,414.3 204.5,414.4 205.0,414.4 205.5,414.5 206.0,414.5 206.5,414.6 207.0,414.6 207.5,414.7 208.0,414.7 208.5,414.8 209.0,414.8 209.5,414.9 210.0,414.9 210.5,414.9 211.0,415.0 211.5,415.0 212.0,415.1 212.5,415.1 213.0,415.1 213.5,415.2 214.0,415.2 214.5,415.3 215.0,415.3 215.5,415.3 216.0,415.4 216.5,415.4 217.0,415.4 217.5,415.5 218.0,415.5 218.5,415.5 219.0,415.5 219.5,415.6 220.0,415.6 220.5,415.6 221.0,415.7 221.5,415.7 222.0,415.7 222.5,415.8 223.0,415.8 223.5,415.8 224.0,415.8 224.5,415.9 225.0,415.9 225.5,415.9 226.0,415.9 226.5,416.0 227.0,416.0 227.5,416.0 228.0,416.1 228.5,416.1 229.0,416.1 229.5,416.1 230.0,416.2 230.5,416.2 231.0,416.2 231.5,416.2 232.0,416.3 232.5,416.3 233.0,416.3 233.5,416.3 234.0,416.3 234.5,416.4 235.0,416.4 235.5,416.4 236.0,416.4 236.5,416.5 237.0,416.5 237.5,416.5 238.0,416.5 238.5,416.5 239.0,416.6 239.5,416.6 240.0,416.6 240.5,416.6 241.0,416.6 241.5,416.7 242.0,416.7 242.5,416.7 243.0,416.7 243.5,416.7 244.0,416.8 244.5,416.8 245.0,416.8 245.5,416.8 246.0,416.8 246.5,416.9 247.0,416.9 247.5,416.9 248.0,416.9 248.5,416.9 249.0,416.9 249.5,416.9 250.0,417.0 250.5,417.0 251.0,417.0 251.5,417.0 252.0,417.0 252.5,417.0 253.0,417.1 253.5,417.1 254.0,417.1 254.5,417.1 255.0,417.1 255.5,417.1 256.0,417.1 256.5,417.1 257.0,417.1 257.5,417.2 258.0,417.2 258.5,417.2 259.0,417.2 259.5,417.2 260.0,417.2 260.5,417.2 261.0,417.2 261.5,417.2 262.0,417.2 262.5,417.3 263.0,417.3 263.5,417.3 264.0,417.3 264.5,417.3 265.0,417.3 265.5,417.3 266.0,417.3 266.5,417.3 267.0,417.3 267.5,417.3 268.0,417.3 268.5,417.3 269.0,417.3 269.5,417.3 270.0,417.3 270.5,417.3 271.0,417.3 271.5,417.3 272.0,417.3 272.5,417.3 273.0,417.4 273.5,417.4 274.0,417.4 274.5,417.4 275.0,417.4 275.5,417.4 276.0,417.4 276.5,417.3 277.0,417.3 277.5,417.3 278.0,417.3 278.5,417.3 279.0,417.3 279.5,417.3 280.0,417.3 280.5,417.3 281.0,417.3 281.5,417.3 282.0,417.3 282.5,417.3 283.0,417.3 283.5,417.3 284.0,417.3 284.5,417.3 285.0,417.3 285.5,417.3 286.0,417.3 286.5,417.3 287.0,417.2 287.5,417.2 288.0,417.2" stroke="#111" stroke-dasharray="5.5 3.2 1.6 3.2"/>
<path d="M47.0,326.1 47.5,327.9 48.0,329.8 48.5,331.6 49.0,333.4 49.5,335.2 50.0,337.1 50.5,338.9 51.0,340.8 51.5,342.7 52.0,344.7 52.5,346.6 53.0,348.7 53.5,350.7 54.0,352.9 54.5,355.0 55.0,357.3 55.5,359.6 56.0,361.9 56.5,364.3 57.0,366.6 57.5,368.8 58.0,370.9 58.5,372.8 59.0,374.5 59.5,375.9 60.0,377.0 60.5,377.7 61.0,378.1 61.5,378.0 62.0,377.4 62.5,376.5 63.0,375.2 63.5,373.6 64.0,371.6 64.5,369.5 65.0,367.1 65.5,364.6 66.0,362.0 66.5,359.2 67.0,356.4 67.5,353.7 68.0,350.9 68.5,348.2 69.0,345.5 69.5,342.9 70.0,340.3 70.5,337.7 71.0,335.3 71.5,332.9 72.0,330.5 72.5,328.3 73.0,326.2 73.5,324.2 74.0,322.2 74.5,320.4 75.0,318.7 75.5,317.0 76.0,315.5 76.5,314.0 77.0,312.6 77.5,311.2 78.0,309.9 78.5,308.7 79.0,307.5 79.5,306.3 80.0,305.2 80.5,304.1 81.0,303.0 81.5,302.0 82.0,301.0 82.5,299.9 83.0,298.9 83.5,297.9 84.0,296.9 84.5,295.9 85.0,294.9 85.5,293.9 86.0,292.8 86.5,291.8 87.0,290.7 87.5,289.6 88.0,288.4 88.5,287.2 89.0,286.0 89.5,284.8 90.0,283.5 90.5,282.1 91.0,280.7 91.5,279.2 92.0,277.8 92.5,276.3 93.0,274.7 93.5,273.2 94.0,271.7 94.5,270.2 95.0,268.7 95.5,267.3 96.0,265.9 96.5,264.6 97.0,263.4 97.5,262.2 98.0,261.2 98.5,260.2 99.0,259.4 99.5,258.7 100.0,258.0 100.5,257.5 101.0,257.1 101.5,256.8 102.0,256.6 102.5,256.4 103.0,256.3 103.5,256.3 104.0,256.3 104.5,256.4 105.0,256.5 105.5,256.6 106.0,256.8 106.5,257.0 107.0,257.2 107.5,257.5 108.0,257.8 108.5,258.2 109.0,258.5 109.5,259.0 110.0,259.4 110.5,259.9 111.0,260.5 111.5,261.0 112.0,261.6 112.5,262.3 113.0,262.9 113.5,263.6 114.0,264.3 114.5,265.1 115.0,265.8 115.5,266.5 116.0,267.3 116.5,268.0 117.0,268.8 117.5,269.6 118.0,270.3 118.5,271.0 119.0,271.8 119.5,272.5 120.0,273.2 120.5,274.0 121.0,274.7 121.5,275.4 122.0,276.1 122.5,276.7 123.0,277.4 123.5,278.1 124.0,278.7 124.5,279.4 125.0,280.0 125.5,280.6 126.0,281.2 126.5,281.8 127.0,282.4 127.5,282.9 128.0,283.5 128.5,284.0 129.0,284.5 129.5,285.0 130.0,285.6 130.5,286.0 131.0,286.5 131.5,287.0 132.0,287.5 132.5,287.9 133.0,288.3 133.5,288.8 134.0,289.2 134.5,289.6 135.0,290.0 135.5,290.4 136.0,290.8 136.5,291.1 137.0,291.5 137.5,291.8 138.0,292.2 138.5,292.5 139.0,292.9 139.5,293.2 140.0,293.5 140.5,293.8 141.0,294.1 141.5,294.4 142.0,294.7 142.5,295.0 143.0,295.3 143.5,295.6 144.0,295.8 144.5,296.1 145.0,296.4 145.5,296.7 146.0,296.9 146.5,297.2 147.0,297.4 147.5,297.7 148.0,298.0 148.5,298.2 149.0,298.5 149.5,298.7 150.0,299.0 150.5,299.2 151.0,299.5 151.5,299.7 152.0,299.9 152.5,300.2 153.0,300.4 153.5,300.7 154.0,300.9 154.5,301.1 155.0,301.4 155.5,301.6 156.0,301.8 156.5,302.1 157.0,302.3 157.5,302.5 158.0,302.8 158.5,303.0 159.0,303.2 159.5,303.4 160.0,303.6 160.5,303.9 161.0,304.1 161.5,304.3 162.0,304.5 162.5,304.7 163.0,304.9 163.5,305.1 164.0,305.3 164.5,305.5 165.0,305.7 165.5,305.9 166.0,306.1 166.5,306.3 167.0,306.5 167.5,306.7 168.0,306.9 168.5,307.1 169.0,307.3 169.5,307.5 170.0,307.7 170.5,307.9 171.0,308.1 171.5,308.2 172.0,308.4 172.5,308.6 173.0,308.8 173.5,309.0 174.0,309.1 174.5,309.3 175.0,309.5 175.5,309.7 176.0,309.8 176.5,310.0 177.0,310.2 177.5,310.3 178.0,310.5 178.5,310.7 179.0,310.8 179.5,311.0 180.0,311.2 180.5,311.3 181.0,311.5 181.5,311.6 182.0,311.8 182.5,311.9 183.0,312.1 183.5,312.2 184.0,312.4 184.5,312.6 185.0,312.7 185.5,312.9 186.0,313.0 186.5,313.1 187.0,313.3 187.5,313.4 188.0,313.6 188.5,313.7 189.0,313.9 189.5,314.0 190.0,314.1 190.5,314.3 191.0,314.4 191.5,314.6 192.0,314.7 192.5,314.8 193.0,315.0 193.5,315.1 194.0,315.2 194.5,315.4 195.0,315.5 195.5,315.6 196.0,315.8 196.5,315.9 197.0,316.0 197.5,316.1 198.0,316.3 198.5,316.4 199.0,316.5 199.5,316.6 200.0,316.7 200.5,316.9 201.0,317.0 201.5,317.1 202.0,317.2 202.5,317.3 203.0,317.5 203.5,317.6 204.0,317.7 204.5,317.8 205.0,317.9 205.5,318.0 206.0,318.1 206.5,318.3 207.0,318.4 207.5,318.5 208.0,318.6 208.5,318.7 209.0,318.8 209.5,318.9 210.0,319.0 210.5,319.1 211.0,319.2 211.5,319.3 212.0,319.4 212.5,319.5 213.0,319.6 213.5,319.7 214.0,319.8 214.5,319.9 215.0,320.0 215.5,320.1 216.0,320.2 216.5,320.3 217.0,320.4 217.5,320.5 218.0,320.6 218.5,320.6 219.0,320.7 219.5,320.8 220.0,320.9 220.5,321.0 221.0,321.1 221.5,321.2 222.0,321.3 222.5,321.3 223.0,321.4 223.5,321.5 224.0,321.6 224.5,321.7 225.0,321.8 225.5,321.8 226.0,321.9 226.5,322.0 227.0,322.1 227.5,322.1 228.0,322.2 228.5,322.3 229.0,322.4 229.5,322.5 230.0,322.5 230.5,322.6 231.0,322.7 231.5,322.8 232.0,322.8 232.5,322.9 233.0,323.0 233.5,323.0 234.0,323.1 234.5,323.2 235.0,323.3 235.5,323.3 236.0,323.4 236.5,323.5 237.0,323.5 237.5,323.6 238.0,323.7 238.5,323.8 239.0,323.8 239.5,323.9 240.0,324.0 240.5,324.0 241.0,324.1 241.5,324.2 242.0,324.2 242.5,324.3 243.0,324.4 243.5,324.4 244.0,324.5 244.5,324.6 245.0,324.6 245.5,324.7 246.0,324.8 246.5,324.8 247.0,324.9 247.5,325.0 248.0,325.0 248.5,325.1 249.0,325.2 249.5,325.2 250.0,325.3 250.5,325.4 251.0,325.4 251.5,325.5 252.0,325.6 252.5,325.6 253.0,325.7 253.5,325.8 254.0,325.8 254.5,325.9 255.0,326.0 255.5,326.0 256.0,326.1 256.5,326.1 257.0,326.2 257.5,326.3 258.0,326.3 258.5,326.4 259.0,326.5 259.5,326.5 260.0,326.6 260.5,326.7 261.0,326.7 261.5,326.8 262.0,326.8 262.5,326.9 263.0,327.0 263.5,327.0 264.0,327.1 264.5,327.1 265.0,327.2 265.5,327.3 266.0,327.3 266.5,327.4 267.0,327.4 267.5,327.5 268.0,327.6 268.5,327.6 269.0,327.7 269.5,327.7 270.0,327.8 270.5,327.9 271.0,327.9 271.5,328.0 272.0,328.0 272.5,328.1 273.0,328.1 273.5,328.2 274.0,328.2 274.5,328.3 275.0,328.3 275.5,328.4 276.0,328.5 276.5,328.5 277.0,328.6 277.5,328.6 278.0,328.7 278.5,328.7 279.0,328.8 279.5,328.8 280.0,328.9 280.5,328.9 281.0,329.0 281.5,329.0 282.0,329.1 282.5,329.1 283.0,329.2 283.5,329.2 284.0,329.3 284.5,329.3 285.0,329.4 285.5,329.5 286.0,329.5 286.5,329.6 287.0,329.6 287.5,329.7 288.0,329.7" stroke="#e61e10"/>
<path d="M47.0,389.6 47.5,391.2 48.0,392.7 48.5,394.1 49.0,395.4 49.5,396.6 50.0,397.8 50.5,399.0 51.0,400.0 51.5,401.0 52.0,401.9 52.5,402.8 53.0,403.6 53.5,404.4 54.0,405.1 54.5,405.7 55.0,406.4 55.5,406.9 56.0,407.4 56.5,407.8 57.0,408.2 57.5,408.5 58.0,408.7 58.5,408.9 59.0,408.9 59.5,408.9 60.0,408.8 60.5,408.7 61.0,408.4 61.5,408.1 62.0,407.6 62.5,407.1 63.0,406.5 63.5,405.8 64.0,405.1 64.5,404.2 65.0,403.3 65.5,402.3 66.0,401.2 66.5,400.1 67.0,398.8 67.5,397.5 68.0,396.2 68.5,394.8 69.0,393.4 69.5,392.0 70.0,390.6 70.5,389.2 71.0,387.8 71.5,386.5 72.0,385.2 72.5,383.9 73.0,382.8 73.5,381.6 74.0,380.5 74.5,379.4 75.0,378.4 75.5,377.4 76.0,376.4 76.5,375.4 77.0,374.4 77.5,373.4 78.0,372.4 78.5,371.4 79.0,370.3 79.5,369.3 80.0,368.1 80.5,367.0 81.0,365.8 81.5,364.5 82.0,363.2 82.5,361.9 83.0,360.5 83.5,359.0 84.0,357.5 84.5,356.0 85.0,354.4 85.5,352.7 86.0,351.0 86.5,349.2 87.0,347.4 87.5,345.5 88.0,343.6 88.5,341.6 89.0,339.5 89.5,337.4 90.0,335.2 90.5,333.0 91.0,330.7 91.5,328.3 92.0,325.9 92.5,323.4 93.0,320.8 93.5,318.3 94.0,315.7 94.5,313.1 95.0,310.5 95.5,307.8 96.0,305.2 96.5,302.6 97.0,299.9 97.5,297.4 98.0,294.8 98.5,292.3 99.0,289.8 99.5,287.3 100.0,285.0 100.5,282.6 101.0,280.4 101.5,278.2 102.0,276.2 102.5,274.2 103.0,272.3 103.5,270.5 104.0,268.8 104.5,267.2 105.0,265.7 105.5,264.3 106.0,263.0 106.5,261.8 107.0,260.7 107.5,259.8 108.0,259.0 108.5,258.3 109.0,257.7 109.5,257.2 110.0,256.9 110.5,256.7 111.0,256.5 111.5,256.5 112.0,256.6 112.5,256.8 113.0,257.0 113.5,257.3 114.0,257.8 114.5,258.2 115.0,258.8 115.5,259.4 116.0,260.1 116.5,260.9 117.0,261.7 117.5,262.6 118.0,263.6 118.5,264.7 119.0,265.8 119.5,267.1 120.0,268.4 120.5,269.7 121.0,271.2 121.5,272.7 122.0,274.2 122.5,275.9 123.0,277.5 123.5,279.2 124.0,280.9 124.5,282.6 125.0,284.3 125.5,286.0 126.0,287.7 126.5,289.4 127.0,291.0 127.5,292.7 128.0,294.2 128.5,295.8 129.0,297.3 129.5,298.8 130.0,300.3 130.5,301.8 131.0,303.3 131.5,304.7 132.0,306.2 132.5,307.6 133.0,309.0 133.5,310.4 134.0,311.9 134.5,313.3 135.0,314.7 135.5,316.1 136.0,317.6 136.5,319.0 137.0,320.5 137.5,321.9 138.0,323.4 138.5,324.8 139.0,326.2 139.5,327.7 140.0,329.1 140.5,330.5 141.0,331.9 141.5,333.3 142.0,334.7 142.5,336.1 143.0,337.4 143.5,338.8 144.0,340.1 144.5,341.4 145.0,342.7 145.5,344.0 146.0,345.2 146.5,346.5 147.0,347.7 147.5,348.8 148.0,350.0 148.5,351.1 149.0,352.3 149.5,353.4 150.0,354.4 150.5,355.5 151.0,356.5 151.5,357.5 152.0,358.5 152.5,359.5 153.0,360.5 153.5,361.4 154.0,362.4 154.5,363.3 155.0,364.2 155.5,365.1 156.0,365.9 156.5,366.8 157.0,367.6 157.5,368.5 158.0,369.3 158.5,370.1 159.0,370.9 159.5,371.7 160.0,372.4 160.5,373.2 161.0,373.9 161.5,374.7 162.0,375.4 162.5,376.1 163.0,376.8 163.5,377.5 164.0,378.2 164.5,378.9 165.0,379.6 165.5,380.2 166.0,380.9 166.5,381.5 167.0,382.2 167.5,382.8 168.0,383.4 168.5,384.0 169.0,384.6 169.5,385.2 170.0,385.8 170.5,386.4 171.0,387.0 171.5,387.5 172.0,388.1 172.5,388.6 173.0,389.1 173.5,389.6 174.0,390.2 174.5,390.7 175.0,391.2 175.5,391.6 176.0,392.1 176.5,392.6 177.0,393.0 177.5,393.5 178.0,393.9 178.5,394.4 179.0,394.8 179.5,395.2 180.0,395.6 180.5,396.0 181.0,396.4 181.5,396.8 182.0,397.1 182.5,397.5 183.0,397.9 183.5,398.2 184.0,398.5 184.5,398.9 185.0,399.2 185.5,399.5 186.0,399.8 186.5,400.1 187.0,400.4 187.5,400.7 188.0,401.0 188.5,401.2 189.0,401.5 189.5,401.8 190.0,402.0 190.5,402.3 191.0,402.5 191.5,402.7 192.0,403.0 192.5,403.2 193.0,403.4 193.5,403.6 194.0,403.8 194.5,404.0 195.0,404.2 195.5,404.4 196.0,404.6 196.5,404.8 197.0,405.0 197.5,405.1 198.0,405.3 198.5,405.5 199.0,405.6 199.5,405.8 200.0,405.9 200.5,406.1 201.0,406.2 201.5,406.4 202.0,406.5 202.5,406.6 203.0,406.8 203.5,406.9 204.0,407.0 204.5,407.2 205.0,407.3 205.5,407.4 206.0,407.5 206.5,407.7 207.0,407.8 207.5,407.9 208.0,408.0 208.5,408.1 209.0,408.2 209.5,408.3 210.0,408.5 210.5,408.6 211.0,408.7 211.5,408.8 212.0,408.9 212.5,409.0 213.0,409.1 213.5,409.2 214.0,409.3 214.5,409.4 215.0,409.5 215.5,409.6 216.0,409.7 216.5,409.8 217.0,409.9 217.5,410.0 218.0,410.1 218.5,410.2 219.0,410.3 219.5,410.4 220.0,410.5 220.5,410.6 221.0,410.7 221.5,410.8 222.0,410.9 222.5,411.0 223.0,411.0 223.5,411.1 224.0,411.2 224.5,411.3 225.0,411.4 225.5,411.5 226.0,411.6 226.5,411.6 227.0,411.7 227.5,411.8 228.0,411.9 228.5,411.9 229.0,412.0 229.5,412.1 230.0,412.2 230.5,412.2 231.0,412.3 231.5,412.4 232.0,412.5 232.5,412.5 233.0,412.6 233.5,412.7 234.0,412.7 234.5,412.8 235.0,412.9 235.5,412.9 236.0,413.0 236.5,413.0 237.0,413.1 237.5,413.2 238.0,413.2 238.5,413.3 239.0,413.3 239.5,413.4 240.0,413.4 240.5,413.5 241.0,413.5 241.5,413.6 242.0,413.6 242.5,413.7 243.0,413.7 243.5,413.8 244.0,413.8 244.5,413.8 245.0,413.9 245.5,413.9 246.0,414.0 246.5,414.0 247.0,414.0 247.5,414.1 248.0,414.1 248.5,414.1 249.0,414.2 249.5,414.2 250.0,414.3 250.5,414.3 251.0,414.3 251.5,414.4 252.0,414.4 252.5,414.4 253.0,414.4 253.5,414.5 254.0,414.5 254.5,414.5 255.0,414.6 255.5,414.6 256.0,414.6 256.5,414.6 257.0,414.7 257.5,414.7 258.0,414.7 258.5,414.8 259.0,414.8 259.5,414.8 260.0,414.8 260.5,414.9 261.0,414.9 261.5,414.9 262.0,414.9 262.5,415.0 263.0,415.0 263.5,415.0 264.0,415.0 264.5,415.1 265.0,415.1 265.5,415.1 266.0,415.1 266.5,415.2 267.0,415.2 267.5,415.2 268.0,415.2 268.5,415.3 269.0,415.3 269.5,415.3 270.0,415.3 270.5,415.4 271.0,415.4 271.5,415.4 272.0,415.4 272.5,415.5 273.0,415.5 273.5,415.5 274.0,415.5 274.5,415.5 275.0,415.6 275.5,415.6 276.0,415.6 276.5,415.6 277.0,415.7 277.5,415.7 278.0,415.7 278.5,415.7 279.0,415.7 279.5,415.7 280.0,415.8 280.5,415.8 281.0,415.8 281.5,415.8 282.0,415.8 282.5,415.8 283.0,415.8 283.5,415.8 284.0,415.8 284.5,415.9 285.0,415.9 285.5,415.9 286.0,415.9 286.5,415.9 287.0,415.9 287.5,415.9 288.0,415.9" stroke="#111"/>
</g>
<rect x="47" y="233" width="241" height="186.5" fill="none" stroke="#111" stroke-width="1.8"/>
<path d="M47.00,419.5 v3.6 M71.10,419.5 v2.0 M95.20,419.5 v3.6 M119.30,419.5 v2.0 M143.40,419.5 v3.6 M167.50,419.5 v2.0 M191.60,419.5 v3.6 M215.70,419.5 v2.0 M239.80,419.5 v3.6 M263.90,419.5 v2.0 M288.00,419.5 v3.6 " stroke="#111" stroke-width="1.5"/>
<text x="47.00" y="434.1" text-anchor="middle" class="tk">300</text>
<text x="95.20" y="434.1" text-anchor="middle" class="tk">400</text>
<text x="143.40" y="434.1" text-anchor="middle" class="tk">500</text>
<text x="191.60" y="434.1" text-anchor="middle" class="tk">600</text>
<text x="239.80" y="434.1" text-anchor="middle" class="tk">700</text>
<text x="288.00" y="434.1" text-anchor="middle" class="tk">800</text>
<text x="167.50" y="450.1" text-anchor="middle" class="ti">Wavelength / nm</text>
<text transform="translate(36.8,326.25) rotate(-90)" text-anchor="middle" class="ti">Normalized optical density</text>
<rect x="0" y="231.6" width="18.1" height="17.6" fill="#111"/>
<text x="9.4" y="247.6" text-anchor="middle" class="pl" style="font-size:21px">c</text>
<rect x="144.8" y="241.8" width="133.0" height="29.69999999999999" fill="#111"/>
<rect x="143.3" y="240.3" width="133.0" height="29.69999999999999" fill="#fff" stroke="#555" stroke-width="0.8"/>
<text x="210" y="251.2" text-anchor="middle" class="bx">Ag-SiO<tspan dy="3" font-size="8">2</tspan></text>
<text x="210.4" y="267" text-anchor="middle" class="bx">shell thickness: 12 nm</text>
<path d="M368.2,295.5 H401.4" stroke="#111" stroke-width="1.6"/>
<text x="405.3" y="299.8" class="lg">Extinction (solution)</text>
<path d="M368.2,316.1 H401.4" stroke="#e61e10" stroke-width="1.6"/>
<text x="405.3" y="320.40000000000003" class="lg">Extinction (film)</text>
<path d="M368.2,336.6 H401.4" stroke="#111" stroke-width="1.6" stroke-dasharray="5.6 3.6 1.7 3.2"/>
<text x="405.3" y="340.90000000000003" class="lg">Absorption (solution)</text>
<path d="M368.2,357.0 H401.4" stroke="#e61e10" stroke-width="1.6" stroke-dasharray="5.6 3.6 1.7 3.2"/>
<text x="405.3" y="361.3" class="lg">Absorption (film)</text>
</svg>
</body></html>
